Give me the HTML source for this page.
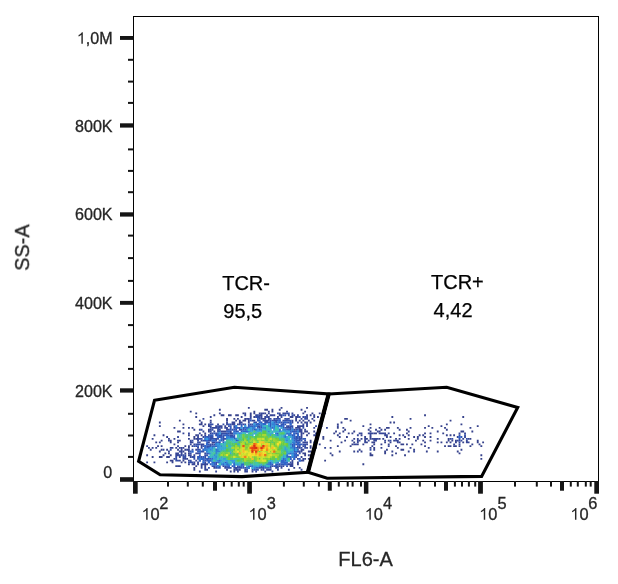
<!DOCTYPE html>
<html><head><meta charset="utf-8"><title>FL6-A vs SS-A</title>
<style>
html,body{margin:0;padding:0;background:#fff;}
body{width:618px;height:584px;overflow:hidden;font-family:"Liberation Sans",sans-serif;}
svg{display:block;will-change:transform;}
svg text{font-family:"Liberation Sans",sans-serif;}
.t text,.t path{stroke:#262626;stroke-width:0.3px;}
.t text.g{stroke:#000;stroke-width:0.25px;}
</style></head>
<body>
<svg width="618" height="584" viewBox="0 0 618 584">
<rect width="618" height="584" fill="#fff"/>
<g shape-rendering="auto">
<path fill="#36428c" d="M198.9 470.6h1.85v1.85h-1.85zM229.8 470.6h1.85v1.85h-1.85zM233.4 470.6h1.85v1.85h-1.85zM264.3 470.6h1.85v1.85h-1.85zM271.5 470.6h1.85v1.85h-1.85zM193.4 468.8h1.85v1.85h-1.85zM226.1 468.8h1.85v1.85h-1.85zM233.4 468.8h1.85v1.85h-1.85zM238.9 468.8h1.85v1.85h-1.85zM287.9 468.8h1.85v1.85h-1.85zM193.4 467.0h1.85v1.85h-1.85zM213.4 467.0h1.85v1.85h-1.85zM293.3 467.0h1.85v1.85h-1.85zM298.8 467.0h1.85v1.85h-1.85zM177.1 465.2h1.85v1.85h-1.85zM178.9 465.2h1.85v1.85h-1.85zM195.3 465.2h1.85v1.85h-1.85zM188.0 463.3h1.85v1.85h-1.85zM297.0 463.3h1.85v1.85h-1.85zM362.4 463.3h1.85v1.85h-1.85zM146.2 461.5h1.85v1.85h-1.85zM153.5 461.5h1.85v1.85h-1.85zM166.2 461.5h1.85v1.85h-1.85zM171.6 461.5h1.85v1.85h-1.85zM180.7 461.5h1.85v1.85h-1.85zM184.4 461.5h1.85v1.85h-1.85zM297.0 461.5h1.85v1.85h-1.85zM169.8 459.7h1.85v1.85h-1.85zM171.6 459.7h1.85v1.85h-1.85zM182.5 459.7h1.85v1.85h-1.85zM324.2 459.7h1.85v1.85h-1.85zM186.2 457.9h1.85v1.85h-1.85zM304.2 457.9h1.85v1.85h-1.85zM307.9 457.9h1.85v1.85h-1.85zM480.4 457.9h1.85v1.85h-1.85zM151.7 456.1h1.85v1.85h-1.85zM158.9 456.1h1.85v1.85h-1.85zM160.7 456.1h1.85v1.85h-1.85zM166.2 456.1h1.85v1.85h-1.85zM168.0 456.1h1.85v1.85h-1.85zM300.6 456.1h1.85v1.85h-1.85zM146.2 454.3h1.85v1.85h-1.85zM162.6 454.3h1.85v1.85h-1.85zM169.8 454.3h1.85v1.85h-1.85zM304.2 454.3h1.85v1.85h-1.85zM307.9 454.3h1.85v1.85h-1.85zM331.5 454.3h1.85v1.85h-1.85zM369.6 454.3h1.85v1.85h-1.85zM371.4 454.3h1.85v1.85h-1.85zM391.4 454.3h1.85v1.85h-1.85zM404.1 454.3h1.85v1.85h-1.85zM480.4 454.3h1.85v1.85h-1.85zM164.4 452.4h1.85v1.85h-1.85zM168.0 452.4h1.85v1.85h-1.85zM184.4 452.4h1.85v1.85h-1.85zM188.0 452.4h1.85v1.85h-1.85zM302.4 452.4h1.85v1.85h-1.85zM304.2 452.4h1.85v1.85h-1.85zM329.7 452.4h1.85v1.85h-1.85zM369.6 452.4h1.85v1.85h-1.85zM384.2 452.4h1.85v1.85h-1.85zM395.1 452.4h1.85v1.85h-1.85zM458.6 452.4h1.85v1.85h-1.85zM158.9 450.6h1.85v1.85h-1.85zM182.5 450.6h1.85v1.85h-1.85zM307.9 450.6h1.85v1.85h-1.85zM309.7 450.6h1.85v1.85h-1.85zM338.8 450.6h1.85v1.85h-1.85zM353.3 450.6h1.85v1.85h-1.85zM360.6 450.6h1.85v1.85h-1.85zM384.2 450.6h1.85v1.85h-1.85zM391.4 450.6h1.85v1.85h-1.85zM407.8 450.6h1.85v1.85h-1.85zM425.9 450.6h1.85v1.85h-1.85zM436.8 450.6h1.85v1.85h-1.85zM456.8 450.6h1.85v1.85h-1.85zM149.8 448.8h1.85v1.85h-1.85zM160.7 448.8h1.85v1.85h-1.85zM166.2 448.8h1.85v1.85h-1.85zM177.1 448.8h1.85v1.85h-1.85zM184.4 448.8h1.85v1.85h-1.85zM358.7 448.8h1.85v1.85h-1.85zM373.3 448.8h1.85v1.85h-1.85zM386.0 448.8h1.85v1.85h-1.85zM400.5 448.8h1.85v1.85h-1.85zM402.3 448.8h1.85v1.85h-1.85zM413.2 448.8h1.85v1.85h-1.85zM460.5 448.8h1.85v1.85h-1.85zM148.0 447.0h1.85v1.85h-1.85zM151.7 447.0h1.85v1.85h-1.85zM155.3 447.0h1.85v1.85h-1.85zM175.3 447.0h1.85v1.85h-1.85zM178.9 447.0h1.85v1.85h-1.85zM182.5 447.0h1.85v1.85h-1.85zM188.0 447.0h1.85v1.85h-1.85zM309.7 447.0h1.85v1.85h-1.85zM315.1 447.0h1.85v1.85h-1.85zM329.7 447.0h1.85v1.85h-1.85zM369.6 447.0h1.85v1.85h-1.85zM373.3 447.0h1.85v1.85h-1.85zM380.5 447.0h1.85v1.85h-1.85zM396.9 447.0h1.85v1.85h-1.85zM409.6 447.0h1.85v1.85h-1.85zM427.8 447.0h1.85v1.85h-1.85zM146.2 445.2h1.85v1.85h-1.85zM157.1 445.2h1.85v1.85h-1.85zM160.7 445.2h1.85v1.85h-1.85zM184.4 445.2h1.85v1.85h-1.85zM188.0 445.2h1.85v1.85h-1.85zM191.6 445.2h1.85v1.85h-1.85zM309.7 445.2h1.85v1.85h-1.85zM336.9 445.2h1.85v1.85h-1.85zM349.7 445.2h1.85v1.85h-1.85zM371.4 445.2h1.85v1.85h-1.85zM395.1 445.2h1.85v1.85h-1.85zM424.1 445.2h1.85v1.85h-1.85zM444.1 445.2h1.85v1.85h-1.85zM447.7 445.2h1.85v1.85h-1.85zM449.6 445.2h1.85v1.85h-1.85zM453.2 445.2h1.85v1.85h-1.85zM455.0 445.2h1.85v1.85h-1.85zM458.6 445.2h1.85v1.85h-1.85zM469.5 445.2h1.85v1.85h-1.85zM480.4 445.2h1.85v1.85h-1.85zM173.5 443.4h1.85v1.85h-1.85zM318.8 443.4h1.85v1.85h-1.85zM351.5 443.4h1.85v1.85h-1.85zM356.9 443.4h1.85v1.85h-1.85zM362.4 443.4h1.85v1.85h-1.85zM373.3 443.4h1.85v1.85h-1.85zM380.5 443.4h1.85v1.85h-1.85zM387.8 443.4h1.85v1.85h-1.85zM400.5 443.4h1.85v1.85h-1.85zM402.3 443.4h1.85v1.85h-1.85zM406.0 443.4h1.85v1.85h-1.85zM411.4 443.4h1.85v1.85h-1.85zM420.5 443.4h1.85v1.85h-1.85zM471.4 443.4h1.85v1.85h-1.85zM478.6 443.4h1.85v1.85h-1.85zM155.3 441.5h1.85v1.85h-1.85zM158.9 441.5h1.85v1.85h-1.85zM169.8 441.5h1.85v1.85h-1.85zM177.1 441.5h1.85v1.85h-1.85zM309.7 441.5h1.85v1.85h-1.85zM340.6 441.5h1.85v1.85h-1.85zM353.3 441.5h1.85v1.85h-1.85zM366.0 441.5h1.85v1.85h-1.85zM371.4 441.5h1.85v1.85h-1.85zM373.3 441.5h1.85v1.85h-1.85zM384.2 441.5h1.85v1.85h-1.85zM389.6 441.5h1.85v1.85h-1.85zM398.7 441.5h1.85v1.85h-1.85zM424.1 441.5h1.85v1.85h-1.85zM436.8 441.5h1.85v1.85h-1.85zM440.5 441.5h1.85v1.85h-1.85zM445.9 441.5h1.85v1.85h-1.85zM449.6 441.5h1.85v1.85h-1.85zM455.0 441.5h1.85v1.85h-1.85zM462.3 441.5h1.85v1.85h-1.85zM476.8 441.5h1.85v1.85h-1.85zM482.2 441.5h1.85v1.85h-1.85zM160.7 439.7h1.85v1.85h-1.85zM169.8 439.7h1.85v1.85h-1.85zM178.9 439.7h1.85v1.85h-1.85zM309.7 439.7h1.85v1.85h-1.85zM329.7 439.7h1.85v1.85h-1.85zM344.2 439.7h1.85v1.85h-1.85zM358.7 439.7h1.85v1.85h-1.85zM387.8 439.7h1.85v1.85h-1.85zM393.2 439.7h1.85v1.85h-1.85zM415.0 439.7h1.85v1.85h-1.85zM422.3 439.7h1.85v1.85h-1.85zM429.6 439.7h1.85v1.85h-1.85zM447.7 439.7h1.85v1.85h-1.85zM451.4 439.7h1.85v1.85h-1.85zM455.0 439.7h1.85v1.85h-1.85zM476.8 439.7h1.85v1.85h-1.85zM151.7 437.9h1.85v1.85h-1.85zM168.0 437.9h1.85v1.85h-1.85zM173.5 437.9h1.85v1.85h-1.85zM188.0 437.9h1.85v1.85h-1.85zM193.4 437.9h1.85v1.85h-1.85zM322.4 437.9h1.85v1.85h-1.85zM353.3 437.9h1.85v1.85h-1.85zM360.6 437.9h1.85v1.85h-1.85zM366.0 437.9h1.85v1.85h-1.85zM369.6 437.9h1.85v1.85h-1.85zM378.7 437.9h1.85v1.85h-1.85zM382.3 437.9h1.85v1.85h-1.85zM395.1 437.9h1.85v1.85h-1.85zM398.7 437.9h1.85v1.85h-1.85zM407.8 437.9h1.85v1.85h-1.85zM416.9 437.9h1.85v1.85h-1.85zM436.8 437.9h1.85v1.85h-1.85zM447.7 437.9h1.85v1.85h-1.85zM462.3 437.9h1.85v1.85h-1.85zM469.5 437.9h1.85v1.85h-1.85zM166.2 436.1h1.85v1.85h-1.85zM193.4 436.1h1.85v1.85h-1.85zM322.4 436.1h1.85v1.85h-1.85zM338.8 436.1h1.85v1.85h-1.85zM346.0 436.1h1.85v1.85h-1.85zM364.2 436.1h1.85v1.85h-1.85zM369.6 436.1h1.85v1.85h-1.85zM386.0 436.1h1.85v1.85h-1.85zM389.6 436.1h1.85v1.85h-1.85zM404.1 436.1h1.85v1.85h-1.85zM413.2 436.1h1.85v1.85h-1.85zM416.9 436.1h1.85v1.85h-1.85zM424.1 436.1h1.85v1.85h-1.85zM429.6 436.1h1.85v1.85h-1.85zM153.5 434.3h1.85v1.85h-1.85zM162.6 434.3h1.85v1.85h-1.85zM188.0 434.3h1.85v1.85h-1.85zM195.3 434.3h1.85v1.85h-1.85zM200.7 434.3h1.85v1.85h-1.85zM306.1 434.3h1.85v1.85h-1.85zM315.1 434.3h1.85v1.85h-1.85zM336.9 434.3h1.85v1.85h-1.85zM360.6 434.3h1.85v1.85h-1.85zM398.7 434.3h1.85v1.85h-1.85zM402.3 434.3h1.85v1.85h-1.85zM407.8 434.3h1.85v1.85h-1.85zM418.7 434.3h1.85v1.85h-1.85zM422.3 434.3h1.85v1.85h-1.85zM445.9 434.3h1.85v1.85h-1.85zM449.6 434.3h1.85v1.85h-1.85zM453.2 434.3h1.85v1.85h-1.85zM204.3 432.5h1.85v1.85h-1.85zM302.4 432.5h1.85v1.85h-1.85zM307.9 432.5h1.85v1.85h-1.85zM317.0 432.5h1.85v1.85h-1.85zM333.3 432.5h1.85v1.85h-1.85zM338.8 432.5h1.85v1.85h-1.85zM347.8 432.5h1.85v1.85h-1.85zM351.5 432.5h1.85v1.85h-1.85zM373.3 432.5h1.85v1.85h-1.85zM375.1 432.5h1.85v1.85h-1.85zM393.2 432.5h1.85v1.85h-1.85zM406.0 432.5h1.85v1.85h-1.85zM424.1 432.5h1.85v1.85h-1.85zM429.6 432.5h1.85v1.85h-1.85zM442.3 432.5h1.85v1.85h-1.85zM177.1 430.6h1.85v1.85h-1.85zM178.9 430.6h1.85v1.85h-1.85zM208.0 430.6h1.85v1.85h-1.85zM304.2 430.6h1.85v1.85h-1.85zM306.1 430.6h1.85v1.85h-1.85zM313.3 430.6h1.85v1.85h-1.85zM335.1 430.6h1.85v1.85h-1.85zM342.4 430.6h1.85v1.85h-1.85zM353.3 430.6h1.85v1.85h-1.85zM369.6 430.6h1.85v1.85h-1.85zM378.7 430.6h1.85v1.85h-1.85zM407.8 430.6h1.85v1.85h-1.85zM436.8 430.6h1.85v1.85h-1.85zM460.5 430.6h1.85v1.85h-1.85zM462.3 430.6h1.85v1.85h-1.85zM471.4 430.6h1.85v1.85h-1.85zM193.4 428.8h1.85v1.85h-1.85zM208.0 428.8h1.85v1.85h-1.85zM344.2 428.8h1.85v1.85h-1.85zM367.8 428.8h1.85v1.85h-1.85zM375.1 428.8h1.85v1.85h-1.85zM380.5 428.8h1.85v1.85h-1.85zM384.2 428.8h1.85v1.85h-1.85zM398.7 428.8h1.85v1.85h-1.85zM406.0 428.8h1.85v1.85h-1.85zM445.9 428.8h1.85v1.85h-1.85zM173.5 427.0h1.85v1.85h-1.85zM182.5 427.0h1.85v1.85h-1.85zM188.0 427.0h1.85v1.85h-1.85zM191.6 427.0h1.85v1.85h-1.85zM295.2 427.0h1.85v1.85h-1.85zM318.8 427.0h1.85v1.85h-1.85zM336.9 427.0h1.85v1.85h-1.85zM342.4 427.0h1.85v1.85h-1.85zM369.6 427.0h1.85v1.85h-1.85zM378.7 427.0h1.85v1.85h-1.85zM386.0 427.0h1.85v1.85h-1.85zM387.8 427.0h1.85v1.85h-1.85zM396.9 427.0h1.85v1.85h-1.85zM409.6 427.0h1.85v1.85h-1.85zM424.1 427.0h1.85v1.85h-1.85zM431.4 427.0h1.85v1.85h-1.85zM444.1 427.0h1.85v1.85h-1.85zM469.5 427.0h1.85v1.85h-1.85zM158.9 425.2h1.85v1.85h-1.85zM202.5 425.2h1.85v1.85h-1.85zM224.3 425.2h1.85v1.85h-1.85zM320.6 425.2h1.85v1.85h-1.85zM362.4 425.2h1.85v1.85h-1.85zM427.8 425.2h1.85v1.85h-1.85zM440.5 425.2h1.85v1.85h-1.85zM476.8 425.2h1.85v1.85h-1.85zM182.5 423.4h1.85v1.85h-1.85zM198.9 423.4h1.85v1.85h-1.85zM200.7 423.4h1.85v1.85h-1.85zM204.3 423.4h1.85v1.85h-1.85zM237.0 423.4h1.85v1.85h-1.85zM336.9 423.4h1.85v1.85h-1.85zM369.6 423.4h1.85v1.85h-1.85zM445.9 423.4h1.85v1.85h-1.85zM460.5 423.4h1.85v1.85h-1.85zM158.9 421.6h1.85v1.85h-1.85zM200.7 421.6h1.85v1.85h-1.85zM304.2 421.6h1.85v1.85h-1.85zM309.7 421.6h1.85v1.85h-1.85zM340.6 421.6h1.85v1.85h-1.85zM389.6 421.6h1.85v1.85h-1.85zM393.2 421.6h1.85v1.85h-1.85zM178.9 419.7h1.85v1.85h-1.85zM198.9 419.7h1.85v1.85h-1.85zM209.8 419.7h1.85v1.85h-1.85zM226.1 419.7h1.85v1.85h-1.85zM235.2 419.7h1.85v1.85h-1.85zM242.5 419.7h1.85v1.85h-1.85zM244.3 419.7h1.85v1.85h-1.85zM295.2 419.7h1.85v1.85h-1.85zM298.8 419.7h1.85v1.85h-1.85zM302.4 419.7h1.85v1.85h-1.85zM307.9 419.7h1.85v1.85h-1.85zM313.3 419.7h1.85v1.85h-1.85zM349.7 419.7h1.85v1.85h-1.85zM449.6 419.7h1.85v1.85h-1.85zM226.1 417.9h1.85v1.85h-1.85zM233.4 417.9h1.85v1.85h-1.85zM237.0 417.9h1.85v1.85h-1.85zM244.3 417.9h1.85v1.85h-1.85zM295.2 417.9h1.85v1.85h-1.85zM311.5 417.9h1.85v1.85h-1.85zM344.2 417.9h1.85v1.85h-1.85zM346.0 417.9h1.85v1.85h-1.85zM409.6 417.9h1.85v1.85h-1.85zM195.3 416.1h1.85v1.85h-1.85zM209.8 416.1h1.85v1.85h-1.85zM240.7 416.1h1.85v1.85h-1.85zM253.4 416.1h1.85v1.85h-1.85zM289.7 416.1h1.85v1.85h-1.85zM291.5 416.1h1.85v1.85h-1.85zM295.2 416.1h1.85v1.85h-1.85zM317.0 416.1h1.85v1.85h-1.85zM391.4 416.1h1.85v1.85h-1.85zM462.3 416.1h1.85v1.85h-1.85zM213.4 414.3h1.85v1.85h-1.85zM220.7 414.3h1.85v1.85h-1.85zM222.5 414.3h1.85v1.85h-1.85zM228.0 414.3h1.85v1.85h-1.85zM229.8 414.3h1.85v1.85h-1.85zM235.2 414.3h1.85v1.85h-1.85zM237.0 414.3h1.85v1.85h-1.85zM249.8 414.3h1.85v1.85h-1.85zM306.1 414.3h1.85v1.85h-1.85zM309.7 414.3h1.85v1.85h-1.85zM313.3 414.3h1.85v1.85h-1.85zM424.1 414.3h1.85v1.85h-1.85zM195.3 412.5h1.85v1.85h-1.85zM218.9 412.5h1.85v1.85h-1.85zM242.5 412.5h1.85v1.85h-1.85zM249.8 412.5h1.85v1.85h-1.85zM253.4 412.5h1.85v1.85h-1.85zM258.8 412.5h1.85v1.85h-1.85zM264.3 412.5h1.85v1.85h-1.85zM302.4 412.5h1.85v1.85h-1.85zM311.5 412.5h1.85v1.85h-1.85zM318.8 412.5h1.85v1.85h-1.85zM324.2 412.5h1.85v1.85h-1.85zM189.8 410.7h1.85v1.85h-1.85zM253.4 410.7h1.85v1.85h-1.85zM267.9 410.7h1.85v1.85h-1.85zM271.5 410.7h1.85v1.85h-1.85zM304.2 410.7h1.85v1.85h-1.85zM218.9 408.8h1.85v1.85h-1.85zM264.3 408.8h1.85v1.85h-1.85zM266.1 408.8h1.85v1.85h-1.85zM271.5 408.8h1.85v1.85h-1.85zM278.8 408.8h1.85v1.85h-1.85zM300.6 408.8h1.85v1.85h-1.85zM247.9 407.0h1.85v1.85h-1.85zM280.6 407.0h1.85v1.85h-1.85zM306.1 407.0h1.85v1.85h-1.85z"/>
<path fill="#364697" d="M215.2 470.6h1.85v1.85h-1.85zM237.0 470.6h1.85v1.85h-1.85zM244.3 470.6h1.85v1.85h-1.85zM246.1 470.6h1.85v1.85h-1.85zM251.6 470.6h1.85v1.85h-1.85zM255.2 470.6h1.85v1.85h-1.85zM204.3 468.8h1.85v1.85h-1.85zM206.2 468.8h1.85v1.85h-1.85zM235.2 468.8h1.85v1.85h-1.85zM237.0 468.8h1.85v1.85h-1.85zM244.3 468.8h1.85v1.85h-1.85zM260.6 468.8h1.85v1.85h-1.85zM266.1 468.8h1.85v1.85h-1.85zM267.9 468.8h1.85v1.85h-1.85zM269.7 468.8h1.85v1.85h-1.85zM277.0 468.8h1.85v1.85h-1.85zM300.6 468.8h1.85v1.85h-1.85zM200.7 467.0h1.85v1.85h-1.85zM204.3 467.0h1.85v1.85h-1.85zM224.3 467.0h1.85v1.85h-1.85zM233.4 467.0h1.85v1.85h-1.85zM235.2 467.0h1.85v1.85h-1.85zM275.2 467.0h1.85v1.85h-1.85zM280.6 467.0h1.85v1.85h-1.85zM175.3 465.2h1.85v1.85h-1.85zM200.7 465.2h1.85v1.85h-1.85zM204.3 465.2h1.85v1.85h-1.85zM222.5 465.2h1.85v1.85h-1.85zM271.5 465.2h1.85v1.85h-1.85zM278.8 465.2h1.85v1.85h-1.85zM282.4 465.2h1.85v1.85h-1.85zM289.7 465.2h1.85v1.85h-1.85zM291.5 465.2h1.85v1.85h-1.85zM191.6 463.3h1.85v1.85h-1.85zM193.4 463.3h1.85v1.85h-1.85zM197.1 463.3h1.85v1.85h-1.85zM200.7 463.3h1.85v1.85h-1.85zM202.5 463.3h1.85v1.85h-1.85zM204.3 463.3h1.85v1.85h-1.85zM206.2 463.3h1.85v1.85h-1.85zM287.9 463.3h1.85v1.85h-1.85zM289.7 463.3h1.85v1.85h-1.85zM291.5 463.3h1.85v1.85h-1.85zM193.4 461.5h1.85v1.85h-1.85zM197.1 461.5h1.85v1.85h-1.85zM204.3 461.5h1.85v1.85h-1.85zM291.5 461.5h1.85v1.85h-1.85zM178.9 459.7h1.85v1.85h-1.85zM188.0 459.7h1.85v1.85h-1.85zM195.3 459.7h1.85v1.85h-1.85zM291.5 459.7h1.85v1.85h-1.85zM300.6 459.7h1.85v1.85h-1.85zM302.4 459.7h1.85v1.85h-1.85zM173.5 457.9h1.85v1.85h-1.85zM182.5 457.9h1.85v1.85h-1.85zM184.4 457.9h1.85v1.85h-1.85zM297.0 457.9h1.85v1.85h-1.85zM302.4 457.9h1.85v1.85h-1.85zM178.9 456.1h1.85v1.85h-1.85zM189.8 456.1h1.85v1.85h-1.85zM175.3 454.3h1.85v1.85h-1.85zM177.1 454.3h1.85v1.85h-1.85zM180.7 454.3h1.85v1.85h-1.85zM184.4 454.3h1.85v1.85h-1.85zM188.0 454.3h1.85v1.85h-1.85zM189.8 454.3h1.85v1.85h-1.85zM193.4 454.3h1.85v1.85h-1.85zM309.7 454.3h1.85v1.85h-1.85zM311.5 454.3h1.85v1.85h-1.85zM175.3 452.4h1.85v1.85h-1.85zM177.1 452.4h1.85v1.85h-1.85zM180.7 452.4h1.85v1.85h-1.85zM195.3 452.4h1.85v1.85h-1.85zM197.1 452.4h1.85v1.85h-1.85zM204.3 452.4h1.85v1.85h-1.85zM168.0 450.6h1.85v1.85h-1.85zM178.9 450.6h1.85v1.85h-1.85zM180.7 450.6h1.85v1.85h-1.85zM188.0 450.6h1.85v1.85h-1.85zM300.6 450.6h1.85v1.85h-1.85zM356.9 450.6h1.85v1.85h-1.85zM413.2 450.6h1.85v1.85h-1.85zM162.6 448.8h1.85v1.85h-1.85zM180.7 448.8h1.85v1.85h-1.85zM186.2 448.8h1.85v1.85h-1.85zM188.0 448.8h1.85v1.85h-1.85zM195.3 448.8h1.85v1.85h-1.85zM300.6 448.8h1.85v1.85h-1.85zM302.4 448.8h1.85v1.85h-1.85zM169.8 447.0h1.85v1.85h-1.85zM171.6 447.0h1.85v1.85h-1.85zM180.7 447.0h1.85v1.85h-1.85zM197.1 447.0h1.85v1.85h-1.85zM200.7 447.0h1.85v1.85h-1.85zM298.8 447.0h1.85v1.85h-1.85zM306.1 447.0h1.85v1.85h-1.85zM324.2 447.0h1.85v1.85h-1.85zM177.1 445.2h1.85v1.85h-1.85zM195.3 445.2h1.85v1.85h-1.85zM200.7 445.2h1.85v1.85h-1.85zM302.4 445.2h1.85v1.85h-1.85zM387.8 445.2h1.85v1.85h-1.85zM189.8 443.4h1.85v1.85h-1.85zM193.4 443.4h1.85v1.85h-1.85zM200.7 443.4h1.85v1.85h-1.85zM202.5 443.4h1.85v1.85h-1.85zM211.6 443.4h1.85v1.85h-1.85zM306.1 443.4h1.85v1.85h-1.85zM353.3 443.4h1.85v1.85h-1.85zM355.1 443.4h1.85v1.85h-1.85zM453.2 443.4h1.85v1.85h-1.85zM458.6 443.4h1.85v1.85h-1.85zM189.8 441.5h1.85v1.85h-1.85zM191.6 441.5h1.85v1.85h-1.85zM198.9 441.5h1.85v1.85h-1.85zM208.0 441.5h1.85v1.85h-1.85zM211.6 441.5h1.85v1.85h-1.85zM213.4 441.5h1.85v1.85h-1.85zM302.4 441.5h1.85v1.85h-1.85zM304.2 441.5h1.85v1.85h-1.85zM306.1 441.5h1.85v1.85h-1.85zM315.1 441.5h1.85v1.85h-1.85zM356.9 441.5h1.85v1.85h-1.85zM364.2 441.5h1.85v1.85h-1.85zM396.9 441.5h1.85v1.85h-1.85zM458.6 441.5h1.85v1.85h-1.85zM465.9 441.5h1.85v1.85h-1.85zM467.7 441.5h1.85v1.85h-1.85zM168.0 439.7h1.85v1.85h-1.85zM177.1 439.7h1.85v1.85h-1.85zM189.8 439.7h1.85v1.85h-1.85zM197.1 439.7h1.85v1.85h-1.85zM200.7 439.7h1.85v1.85h-1.85zM351.5 439.7h1.85v1.85h-1.85zM356.9 439.7h1.85v1.85h-1.85zM364.2 439.7h1.85v1.85h-1.85zM367.8 439.7h1.85v1.85h-1.85zM373.3 439.7h1.85v1.85h-1.85zM375.1 439.7h1.85v1.85h-1.85zM384.2 439.7h1.85v1.85h-1.85zM395.1 439.7h1.85v1.85h-1.85zM396.9 439.7h1.85v1.85h-1.85zM456.8 439.7h1.85v1.85h-1.85zM460.5 439.7h1.85v1.85h-1.85zM465.9 439.7h1.85v1.85h-1.85zM195.3 437.9h1.85v1.85h-1.85zM197.1 437.9h1.85v1.85h-1.85zM217.1 437.9h1.85v1.85h-1.85zM356.9 437.9h1.85v1.85h-1.85zM364.2 437.9h1.85v1.85h-1.85zM371.4 437.9h1.85v1.85h-1.85zM373.3 437.9h1.85v1.85h-1.85zM375.1 437.9h1.85v1.85h-1.85zM376.9 437.9h1.85v1.85h-1.85zM449.6 437.9h1.85v1.85h-1.85zM467.7 437.9h1.85v1.85h-1.85zM177.1 436.1h1.85v1.85h-1.85zM197.1 436.1h1.85v1.85h-1.85zM202.5 436.1h1.85v1.85h-1.85zM300.6 436.1h1.85v1.85h-1.85zM456.8 436.1h1.85v1.85h-1.85zM464.1 436.1h1.85v1.85h-1.85zM197.1 434.3h1.85v1.85h-1.85zM204.3 434.3h1.85v1.85h-1.85zM300.6 434.3h1.85v1.85h-1.85zM313.3 434.3h1.85v1.85h-1.85zM356.9 434.3h1.85v1.85h-1.85zM369.6 434.3h1.85v1.85h-1.85zM384.2 434.3h1.85v1.85h-1.85zM386.0 434.3h1.85v1.85h-1.85zM182.5 432.5h1.85v1.85h-1.85zM188.0 432.5h1.85v1.85h-1.85zM198.9 432.5h1.85v1.85h-1.85zM209.8 432.5h1.85v1.85h-1.85zM229.8 432.5h1.85v1.85h-1.85zM231.6 432.5h1.85v1.85h-1.85zM300.6 432.5h1.85v1.85h-1.85zM358.7 432.5h1.85v1.85h-1.85zM360.6 432.5h1.85v1.85h-1.85zM367.8 432.5h1.85v1.85h-1.85zM369.6 432.5h1.85v1.85h-1.85zM371.4 432.5h1.85v1.85h-1.85zM378.7 432.5h1.85v1.85h-1.85zM380.5 432.5h1.85v1.85h-1.85zM382.3 432.5h1.85v1.85h-1.85zM384.2 432.5h1.85v1.85h-1.85zM387.8 432.5h1.85v1.85h-1.85zM458.6 432.5h1.85v1.85h-1.85zM464.1 432.5h1.85v1.85h-1.85zM202.5 430.6h1.85v1.85h-1.85zM213.4 430.6h1.85v1.85h-1.85zM220.7 430.6h1.85v1.85h-1.85zM222.5 430.6h1.85v1.85h-1.85zM224.3 430.6h1.85v1.85h-1.85zM229.8 430.6h1.85v1.85h-1.85zM298.8 430.6h1.85v1.85h-1.85zM300.6 430.6h1.85v1.85h-1.85zM376.9 430.6h1.85v1.85h-1.85zM198.9 428.8h1.85v1.85h-1.85zM209.8 428.8h1.85v1.85h-1.85zM218.9 428.8h1.85v1.85h-1.85zM226.1 428.8h1.85v1.85h-1.85zM293.3 428.8h1.85v1.85h-1.85zM298.8 428.8h1.85v1.85h-1.85zM300.6 428.8h1.85v1.85h-1.85zM304.2 428.8h1.85v1.85h-1.85zM211.6 427.0h1.85v1.85h-1.85zM213.4 427.0h1.85v1.85h-1.85zM215.2 427.0h1.85v1.85h-1.85zM220.7 427.0h1.85v1.85h-1.85zM224.3 427.0h1.85v1.85h-1.85zM226.1 427.0h1.85v1.85h-1.85zM286.1 427.0h1.85v1.85h-1.85zM297.0 427.0h1.85v1.85h-1.85zM298.8 427.0h1.85v1.85h-1.85zM313.3 427.0h1.85v1.85h-1.85zM326.0 427.0h1.85v1.85h-1.85zM208.0 425.2h1.85v1.85h-1.85zM209.8 425.2h1.85v1.85h-1.85zM215.2 425.2h1.85v1.85h-1.85zM218.9 425.2h1.85v1.85h-1.85zM220.7 425.2h1.85v1.85h-1.85zM287.9 425.2h1.85v1.85h-1.85zM297.0 425.2h1.85v1.85h-1.85zM298.8 425.2h1.85v1.85h-1.85zM300.6 425.2h1.85v1.85h-1.85zM302.4 425.2h1.85v1.85h-1.85zM306.1 425.2h1.85v1.85h-1.85zM336.9 425.2h1.85v1.85h-1.85zM208.0 423.4h1.85v1.85h-1.85zM217.1 423.4h1.85v1.85h-1.85zM226.1 423.4h1.85v1.85h-1.85zM231.6 423.4h1.85v1.85h-1.85zM233.4 423.4h1.85v1.85h-1.85zM238.9 423.4h1.85v1.85h-1.85zM242.5 423.4h1.85v1.85h-1.85zM249.8 423.4h1.85v1.85h-1.85zM302.4 423.4h1.85v1.85h-1.85zM306.1 423.4h1.85v1.85h-1.85zM209.8 421.6h1.85v1.85h-1.85zM226.1 421.6h1.85v1.85h-1.85zM231.6 421.6h1.85v1.85h-1.85zM233.4 421.6h1.85v1.85h-1.85zM238.9 421.6h1.85v1.85h-1.85zM240.7 421.6h1.85v1.85h-1.85zM247.9 421.6h1.85v1.85h-1.85zM291.5 421.6h1.85v1.85h-1.85zM297.0 421.6h1.85v1.85h-1.85zM300.6 421.6h1.85v1.85h-1.85zM306.1 421.6h1.85v1.85h-1.85zM238.9 419.7h1.85v1.85h-1.85zM247.9 419.7h1.85v1.85h-1.85zM251.6 419.7h1.85v1.85h-1.85zM253.4 419.7h1.85v1.85h-1.85zM291.5 419.7h1.85v1.85h-1.85zM202.5 417.9h1.85v1.85h-1.85zM246.1 417.9h1.85v1.85h-1.85zM247.9 417.9h1.85v1.85h-1.85zM260.6 417.9h1.85v1.85h-1.85zM262.5 417.9h1.85v1.85h-1.85zM264.3 417.9h1.85v1.85h-1.85zM275.2 417.9h1.85v1.85h-1.85zM284.3 417.9h1.85v1.85h-1.85zM287.9 417.9h1.85v1.85h-1.85zM300.6 417.9h1.85v1.85h-1.85zM306.1 417.9h1.85v1.85h-1.85zM249.8 416.1h1.85v1.85h-1.85zM260.6 416.1h1.85v1.85h-1.85zM264.3 416.1h1.85v1.85h-1.85zM267.9 416.1h1.85v1.85h-1.85zM277.0 416.1h1.85v1.85h-1.85zM280.6 416.1h1.85v1.85h-1.85zM297.0 416.1h1.85v1.85h-1.85zM302.4 416.1h1.85v1.85h-1.85zM306.1 416.1h1.85v1.85h-1.85zM313.3 416.1h1.85v1.85h-1.85zM244.3 414.3h1.85v1.85h-1.85zM255.2 414.3h1.85v1.85h-1.85zM258.8 414.3h1.85v1.85h-1.85zM260.6 414.3h1.85v1.85h-1.85zM266.1 414.3h1.85v1.85h-1.85zM269.7 414.3h1.85v1.85h-1.85zM271.5 414.3h1.85v1.85h-1.85zM273.4 414.3h1.85v1.85h-1.85zM278.8 414.3h1.85v1.85h-1.85zM280.6 414.3h1.85v1.85h-1.85zM293.3 414.3h1.85v1.85h-1.85zM297.0 414.3h1.85v1.85h-1.85zM244.3 412.5h1.85v1.85h-1.85zM260.6 412.5h1.85v1.85h-1.85zM262.5 412.5h1.85v1.85h-1.85zM267.9 412.5h1.85v1.85h-1.85zM278.8 412.5h1.85v1.85h-1.85zM282.4 412.5h1.85v1.85h-1.85zM284.3 412.5h1.85v1.85h-1.85zM291.5 412.5h1.85v1.85h-1.85zM286.1 410.7h1.85v1.85h-1.85z"/>
<path fill="#344ea7" d="M246.1 468.8h1.85v1.85h-1.85zM251.6 468.8h1.85v1.85h-1.85zM255.2 468.8h1.85v1.85h-1.85zM257.0 468.8h1.85v1.85h-1.85zM262.5 468.8h1.85v1.85h-1.85zM208.0 467.0h1.85v1.85h-1.85zM215.2 467.0h1.85v1.85h-1.85zM226.1 467.0h1.85v1.85h-1.85zM228.0 467.0h1.85v1.85h-1.85zM229.8 467.0h1.85v1.85h-1.85zM237.0 467.0h1.85v1.85h-1.85zM238.9 467.0h1.85v1.85h-1.85zM240.7 467.0h1.85v1.85h-1.85zM244.3 467.0h1.85v1.85h-1.85zM258.8 467.0h1.85v1.85h-1.85zM260.6 467.0h1.85v1.85h-1.85zM262.5 467.0h1.85v1.85h-1.85zM266.1 467.0h1.85v1.85h-1.85zM269.7 467.0h1.85v1.85h-1.85zM277.0 467.0h1.85v1.85h-1.85zM211.6 465.2h1.85v1.85h-1.85zM213.4 465.2h1.85v1.85h-1.85zM224.3 465.2h1.85v1.85h-1.85zM237.0 465.2h1.85v1.85h-1.85zM277.0 465.2h1.85v1.85h-1.85zM280.6 465.2h1.85v1.85h-1.85zM286.1 465.2h1.85v1.85h-1.85zM215.2 463.3h1.85v1.85h-1.85zM278.8 463.3h1.85v1.85h-1.85zM188.0 461.5h1.85v1.85h-1.85zM189.8 461.5h1.85v1.85h-1.85zM191.6 461.5h1.85v1.85h-1.85zM215.2 461.5h1.85v1.85h-1.85zM289.7 461.5h1.85v1.85h-1.85zM175.3 459.7h1.85v1.85h-1.85zM177.1 459.7h1.85v1.85h-1.85zM189.8 459.7h1.85v1.85h-1.85zM204.3 459.7h1.85v1.85h-1.85zM175.3 457.9h1.85v1.85h-1.85zM193.4 457.9h1.85v1.85h-1.85zM197.1 457.9h1.85v1.85h-1.85zM208.0 457.9h1.85v1.85h-1.85zM175.3 456.1h1.85v1.85h-1.85zM182.5 456.1h1.85v1.85h-1.85zM184.4 456.1h1.85v1.85h-1.85zM191.6 456.1h1.85v1.85h-1.85zM193.4 456.1h1.85v1.85h-1.85zM200.7 456.1h1.85v1.85h-1.85zM204.3 456.1h1.85v1.85h-1.85zM295.2 456.1h1.85v1.85h-1.85zM178.9 454.3h1.85v1.85h-1.85zM182.5 454.3h1.85v1.85h-1.85zM204.3 454.3h1.85v1.85h-1.85zM206.2 454.3h1.85v1.85h-1.85zM297.0 454.3h1.85v1.85h-1.85zM189.8 452.4h1.85v1.85h-1.85zM198.9 452.4h1.85v1.85h-1.85zM295.2 452.4h1.85v1.85h-1.85zM298.8 452.4h1.85v1.85h-1.85zM200.7 450.6h1.85v1.85h-1.85zM202.5 450.6h1.85v1.85h-1.85zM297.0 450.6h1.85v1.85h-1.85zM298.8 450.6h1.85v1.85h-1.85zM169.8 448.8h1.85v1.85h-1.85zM191.6 448.8h1.85v1.85h-1.85zM197.1 448.8h1.85v1.85h-1.85zM198.9 448.8h1.85v1.85h-1.85zM369.6 448.8h1.85v1.85h-1.85zM297.0 447.0h1.85v1.85h-1.85zM300.6 447.0h1.85v1.85h-1.85zM304.2 447.0h1.85v1.85h-1.85zM202.5 445.2h1.85v1.85h-1.85zM206.2 445.2h1.85v1.85h-1.85zM208.0 445.2h1.85v1.85h-1.85zM209.8 445.2h1.85v1.85h-1.85zM297.0 445.2h1.85v1.85h-1.85zM304.2 445.2h1.85v1.85h-1.85zM195.3 443.4h1.85v1.85h-1.85zM197.1 443.4h1.85v1.85h-1.85zM198.9 443.4h1.85v1.85h-1.85zM209.8 443.4h1.85v1.85h-1.85zM213.4 443.4h1.85v1.85h-1.85zM295.2 443.4h1.85v1.85h-1.85zM302.4 443.4h1.85v1.85h-1.85zM304.2 443.4h1.85v1.85h-1.85zM313.3 443.4h1.85v1.85h-1.85zM197.1 441.5h1.85v1.85h-1.85zM218.9 441.5h1.85v1.85h-1.85zM313.3 441.5h1.85v1.85h-1.85zM191.6 439.7h1.85v1.85h-1.85zM202.5 439.7h1.85v1.85h-1.85zM204.3 439.7h1.85v1.85h-1.85zM208.0 439.7h1.85v1.85h-1.85zM209.8 439.7h1.85v1.85h-1.85zM215.2 439.7h1.85v1.85h-1.85zM222.5 439.7h1.85v1.85h-1.85zM297.0 439.7h1.85v1.85h-1.85zM298.8 439.7h1.85v1.85h-1.85zM304.2 439.7h1.85v1.85h-1.85zM389.6 439.7h1.85v1.85h-1.85zM458.6 439.7h1.85v1.85h-1.85zM198.9 437.9h1.85v1.85h-1.85zM200.7 437.9h1.85v1.85h-1.85zM209.8 437.9h1.85v1.85h-1.85zM211.6 437.9h1.85v1.85h-1.85zM213.4 437.9h1.85v1.85h-1.85zM215.2 437.9h1.85v1.85h-1.85zM222.5 437.9h1.85v1.85h-1.85zM224.3 437.9h1.85v1.85h-1.85zM298.8 437.9h1.85v1.85h-1.85zM300.6 437.9h1.85v1.85h-1.85zM451.4 437.9h1.85v1.85h-1.85zM458.6 437.9h1.85v1.85h-1.85zM465.9 437.9h1.85v1.85h-1.85zM209.8 436.1h1.85v1.85h-1.85zM211.6 436.1h1.85v1.85h-1.85zM222.5 436.1h1.85v1.85h-1.85zM295.2 436.1h1.85v1.85h-1.85zM298.8 436.1h1.85v1.85h-1.85zM208.0 434.3h1.85v1.85h-1.85zM215.2 434.3h1.85v1.85h-1.85zM218.9 434.3h1.85v1.85h-1.85zM220.7 434.3h1.85v1.85h-1.85zM229.8 434.3h1.85v1.85h-1.85zM231.6 434.3h1.85v1.85h-1.85zM458.6 434.3h1.85v1.85h-1.85zM464.1 434.3h1.85v1.85h-1.85zM211.6 432.5h1.85v1.85h-1.85zM215.2 432.5h1.85v1.85h-1.85zM220.7 432.5h1.85v1.85h-1.85zM222.5 432.5h1.85v1.85h-1.85zM224.3 432.5h1.85v1.85h-1.85zM226.1 432.5h1.85v1.85h-1.85zM228.0 432.5h1.85v1.85h-1.85zM295.2 432.5h1.85v1.85h-1.85zM315.1 432.5h1.85v1.85h-1.85zM209.8 430.6h1.85v1.85h-1.85zM217.1 430.6h1.85v1.85h-1.85zM200.7 428.8h1.85v1.85h-1.85zM211.6 428.8h1.85v1.85h-1.85zM217.1 428.8h1.85v1.85h-1.85zM228.0 428.8h1.85v1.85h-1.85zM231.6 428.8h1.85v1.85h-1.85zM235.2 428.8h1.85v1.85h-1.85zM238.9 428.8h1.85v1.85h-1.85zM240.7 428.8h1.85v1.85h-1.85zM244.3 428.8h1.85v1.85h-1.85zM289.7 428.8h1.85v1.85h-1.85zM295.2 428.8h1.85v1.85h-1.85zM209.8 427.0h1.85v1.85h-1.85zM217.1 427.0h1.85v1.85h-1.85zM218.9 427.0h1.85v1.85h-1.85zM233.4 427.0h1.85v1.85h-1.85zM237.0 427.0h1.85v1.85h-1.85zM238.9 427.0h1.85v1.85h-1.85zM258.8 427.0h1.85v1.85h-1.85zM284.3 427.0h1.85v1.85h-1.85zM287.9 427.0h1.85v1.85h-1.85zM289.7 427.0h1.85v1.85h-1.85zM302.4 427.0h1.85v1.85h-1.85zM217.1 425.2h1.85v1.85h-1.85zM228.0 425.2h1.85v1.85h-1.85zM233.4 425.2h1.85v1.85h-1.85zM257.0 425.2h1.85v1.85h-1.85zM258.8 425.2h1.85v1.85h-1.85zM286.1 425.2h1.85v1.85h-1.85zM289.7 425.2h1.85v1.85h-1.85zM291.5 425.2h1.85v1.85h-1.85zM315.1 425.2h1.85v1.85h-1.85zM209.8 423.4h1.85v1.85h-1.85zM211.6 423.4h1.85v1.85h-1.85zM222.5 423.4h1.85v1.85h-1.85zM229.8 423.4h1.85v1.85h-1.85zM244.3 423.4h1.85v1.85h-1.85zM251.6 423.4h1.85v1.85h-1.85zM284.3 423.4h1.85v1.85h-1.85zM253.4 421.6h1.85v1.85h-1.85zM255.2 421.6h1.85v1.85h-1.85zM264.3 421.6h1.85v1.85h-1.85zM266.1 421.6h1.85v1.85h-1.85zM275.2 421.6h1.85v1.85h-1.85zM280.6 421.6h1.85v1.85h-1.85zM287.9 421.6h1.85v1.85h-1.85zM262.5 419.7h1.85v1.85h-1.85zM264.3 419.7h1.85v1.85h-1.85zM266.1 419.7h1.85v1.85h-1.85zM267.9 419.7h1.85v1.85h-1.85zM271.5 419.7h1.85v1.85h-1.85zM273.4 419.7h1.85v1.85h-1.85zM275.2 419.7h1.85v1.85h-1.85zM282.4 419.7h1.85v1.85h-1.85zM284.3 419.7h1.85v1.85h-1.85zM286.1 419.7h1.85v1.85h-1.85zM249.8 417.9h1.85v1.85h-1.85zM258.8 417.9h1.85v1.85h-1.85zM267.9 417.9h1.85v1.85h-1.85zM269.7 417.9h1.85v1.85h-1.85zM273.4 417.9h1.85v1.85h-1.85zM277.0 417.9h1.85v1.85h-1.85zM278.8 417.9h1.85v1.85h-1.85zM286.1 417.9h1.85v1.85h-1.85zM304.2 417.9h1.85v1.85h-1.85zM255.2 416.1h1.85v1.85h-1.85zM257.0 416.1h1.85v1.85h-1.85zM258.8 416.1h1.85v1.85h-1.85zM266.1 416.1h1.85v1.85h-1.85zM298.8 416.1h1.85v1.85h-1.85zM304.2 416.1h1.85v1.85h-1.85zM257.0 414.3h1.85v1.85h-1.85zM284.3 414.3h1.85v1.85h-1.85zM287.9 414.3h1.85v1.85h-1.85zM291.5 414.3h1.85v1.85h-1.85zM277.0 412.5h1.85v1.85h-1.85zM286.1 412.5h1.85v1.85h-1.85zM287.9 412.5h1.85v1.85h-1.85z"/>
<path fill="#3158b9" d="M253.4 468.8h1.85v1.85h-1.85zM217.1 467.0h1.85v1.85h-1.85zM218.9 467.0h1.85v1.85h-1.85zM242.5 467.0h1.85v1.85h-1.85zM246.1 467.0h1.85v1.85h-1.85zM255.2 467.0h1.85v1.85h-1.85zM257.0 467.0h1.85v1.85h-1.85zM264.3 467.0h1.85v1.85h-1.85zM267.9 467.0h1.85v1.85h-1.85zM215.2 465.2h1.85v1.85h-1.85zM218.9 465.2h1.85v1.85h-1.85zM226.1 465.2h1.85v1.85h-1.85zM231.6 465.2h1.85v1.85h-1.85zM238.9 465.2h1.85v1.85h-1.85zM242.5 465.2h1.85v1.85h-1.85zM247.9 465.2h1.85v1.85h-1.85zM249.8 465.2h1.85v1.85h-1.85zM260.6 465.2h1.85v1.85h-1.85zM269.7 465.2h1.85v1.85h-1.85zM273.4 465.2h1.85v1.85h-1.85zM275.2 465.2h1.85v1.85h-1.85zM209.8 463.3h1.85v1.85h-1.85zM271.5 463.3h1.85v1.85h-1.85zM275.2 463.3h1.85v1.85h-1.85zM277.0 463.3h1.85v1.85h-1.85zM280.6 463.3h1.85v1.85h-1.85zM282.4 463.3h1.85v1.85h-1.85zM286.1 463.3h1.85v1.85h-1.85zM217.1 461.5h1.85v1.85h-1.85zM224.3 461.5h1.85v1.85h-1.85zM202.5 459.7h1.85v1.85h-1.85zM206.2 459.7h1.85v1.85h-1.85zM284.3 459.7h1.85v1.85h-1.85zM204.3 457.9h1.85v1.85h-1.85zM206.2 457.9h1.85v1.85h-1.85zM209.8 457.9h1.85v1.85h-1.85zM298.8 457.9h1.85v1.85h-1.85zM197.1 456.1h1.85v1.85h-1.85zM198.9 456.1h1.85v1.85h-1.85zM202.5 456.1h1.85v1.85h-1.85zM289.7 456.1h1.85v1.85h-1.85zM198.9 454.3h1.85v1.85h-1.85zM206.2 452.4h1.85v1.85h-1.85zM189.8 450.6h1.85v1.85h-1.85zM197.1 450.6h1.85v1.85h-1.85zM293.3 450.6h1.85v1.85h-1.85zM297.0 448.8h1.85v1.85h-1.85zM206.2 447.0h1.85v1.85h-1.85zM295.2 447.0h1.85v1.85h-1.85zM193.4 445.2h1.85v1.85h-1.85zM197.1 445.2h1.85v1.85h-1.85zM211.6 445.2h1.85v1.85h-1.85zM213.4 445.2h1.85v1.85h-1.85zM215.2 445.2h1.85v1.85h-1.85zM291.5 445.2h1.85v1.85h-1.85zM298.8 445.2h1.85v1.85h-1.85zM208.0 443.4h1.85v1.85h-1.85zM291.5 443.4h1.85v1.85h-1.85zM298.8 443.4h1.85v1.85h-1.85zM300.6 443.4h1.85v1.85h-1.85zM206.2 441.5h1.85v1.85h-1.85zM215.2 441.5h1.85v1.85h-1.85zM217.1 441.5h1.85v1.85h-1.85zM222.5 441.5h1.85v1.85h-1.85zM295.2 441.5h1.85v1.85h-1.85zM298.8 441.5h1.85v1.85h-1.85zM220.7 439.7h1.85v1.85h-1.85zM235.2 439.7h1.85v1.85h-1.85zM295.2 439.7h1.85v1.85h-1.85zM300.6 439.7h1.85v1.85h-1.85zM233.4 437.9h1.85v1.85h-1.85zM293.3 437.9h1.85v1.85h-1.85zM295.2 437.9h1.85v1.85h-1.85zM297.0 437.9h1.85v1.85h-1.85zM302.4 437.9h1.85v1.85h-1.85zM304.2 437.9h1.85v1.85h-1.85zM204.3 436.1h1.85v1.85h-1.85zM206.2 436.1h1.85v1.85h-1.85zM208.0 436.1h1.85v1.85h-1.85zM218.9 436.1h1.85v1.85h-1.85zM220.7 436.1h1.85v1.85h-1.85zM229.8 436.1h1.85v1.85h-1.85zM231.6 436.1h1.85v1.85h-1.85zM233.4 436.1h1.85v1.85h-1.85zM297.0 436.1h1.85v1.85h-1.85zM460.5 436.1h1.85v1.85h-1.85zM209.8 434.3h1.85v1.85h-1.85zM211.6 434.3h1.85v1.85h-1.85zM222.5 434.3h1.85v1.85h-1.85zM224.3 434.3h1.85v1.85h-1.85zM228.0 434.3h1.85v1.85h-1.85zM233.4 434.3h1.85v1.85h-1.85zM291.5 434.3h1.85v1.85h-1.85zM213.4 432.5h1.85v1.85h-1.85zM217.1 432.5h1.85v1.85h-1.85zM277.0 432.5h1.85v1.85h-1.85zM289.7 432.5h1.85v1.85h-1.85zM297.0 432.5h1.85v1.85h-1.85zM218.9 430.6h1.85v1.85h-1.85zM226.1 430.6h1.85v1.85h-1.85zM235.2 430.6h1.85v1.85h-1.85zM237.0 430.6h1.85v1.85h-1.85zM240.7 430.6h1.85v1.85h-1.85zM291.5 430.6h1.85v1.85h-1.85zM293.3 430.6h1.85v1.85h-1.85zM295.2 430.6h1.85v1.85h-1.85zM229.8 428.8h1.85v1.85h-1.85zM233.4 428.8h1.85v1.85h-1.85zM242.5 428.8h1.85v1.85h-1.85zM253.4 428.8h1.85v1.85h-1.85zM286.1 428.8h1.85v1.85h-1.85zM297.0 428.8h1.85v1.85h-1.85zM229.8 427.0h1.85v1.85h-1.85zM242.5 427.0h1.85v1.85h-1.85zM244.3 427.0h1.85v1.85h-1.85zM257.0 427.0h1.85v1.85h-1.85zM260.6 427.0h1.85v1.85h-1.85zM271.5 427.0h1.85v1.85h-1.85zM282.4 427.0h1.85v1.85h-1.85zM291.5 427.0h1.85v1.85h-1.85zM229.8 425.2h1.85v1.85h-1.85zM240.7 425.2h1.85v1.85h-1.85zM247.9 425.2h1.85v1.85h-1.85zM249.8 425.2h1.85v1.85h-1.85zM251.6 425.2h1.85v1.85h-1.85zM269.7 425.2h1.85v1.85h-1.85zM280.6 425.2h1.85v1.85h-1.85zM228.0 423.4h1.85v1.85h-1.85zM240.7 423.4h1.85v1.85h-1.85zM247.9 423.4h1.85v1.85h-1.85zM255.2 423.4h1.85v1.85h-1.85zM258.8 423.4h1.85v1.85h-1.85zM269.7 423.4h1.85v1.85h-1.85zM275.2 423.4h1.85v1.85h-1.85zM277.0 423.4h1.85v1.85h-1.85zM280.6 423.4h1.85v1.85h-1.85zM282.4 423.4h1.85v1.85h-1.85zM260.6 421.6h1.85v1.85h-1.85zM267.9 421.6h1.85v1.85h-1.85zM269.7 421.6h1.85v1.85h-1.85zM278.8 421.6h1.85v1.85h-1.85zM282.4 421.6h1.85v1.85h-1.85zM286.1 421.6h1.85v1.85h-1.85zM289.7 421.6h1.85v1.85h-1.85zM249.8 419.7h1.85v1.85h-1.85zM257.0 419.7h1.85v1.85h-1.85zM258.8 419.7h1.85v1.85h-1.85zM269.7 419.7h1.85v1.85h-1.85zM277.0 419.7h1.85v1.85h-1.85zM287.9 419.7h1.85v1.85h-1.85zM289.7 419.7h1.85v1.85h-1.85zM257.0 417.9h1.85v1.85h-1.85zM282.4 414.3h1.85v1.85h-1.85z"/>
<path fill="#2f65ca" d="M227.7 464.9h2.30v2.30h-2.30zM233.2 464.9h2.30v2.30h-2.30zM240.4 464.9h2.30v2.30h-2.30zM251.3 464.9h2.30v2.30h-2.30zM262.2 464.9h2.30v2.30h-2.30zM213.2 463.1h2.30v2.30h-2.30zM222.3 463.1h2.30v2.30h-2.30zM225.9 463.1h2.30v2.30h-2.30zM233.2 463.1h2.30v2.30h-2.30zM240.4 463.1h2.30v2.30h-2.30zM242.3 463.1h2.30v2.30h-2.30zM269.5 463.1h2.30v2.30h-2.30zM284.0 463.1h2.30v2.30h-2.30zM202.3 461.3h2.30v2.30h-2.30zM207.7 461.3h2.30v2.30h-2.30zM211.4 461.3h2.30v2.30h-2.30zM213.2 461.3h2.30v2.30h-2.30zM269.5 461.3h2.30v2.30h-2.30zM280.4 461.3h2.30v2.30h-2.30zM282.2 461.3h2.30v2.30h-2.30zM284.0 461.3h2.30v2.30h-2.30zM285.9 461.3h2.30v2.30h-2.30zM198.7 459.5h2.30v2.30h-2.30zM207.7 459.5h2.30v2.30h-2.30zM209.6 459.5h2.30v2.30h-2.30zM218.6 459.5h2.30v2.30h-2.30zM280.4 459.5h2.30v2.30h-2.30zM282.2 459.5h2.30v2.30h-2.30zM298.6 459.5h2.30v2.30h-2.30zM200.5 457.7h2.30v2.30h-2.30zM202.3 457.7h2.30v2.30h-2.30zM211.4 457.7h2.30v2.30h-2.30zM282.2 457.7h2.30v2.30h-2.30zM289.5 457.7h2.30v2.30h-2.30zM293.1 457.7h2.30v2.30h-2.30zM285.9 455.8h2.30v2.30h-2.30zM287.7 455.8h2.30v2.30h-2.30zM293.1 455.8h2.30v2.30h-2.30zM285.9 454.0h2.30v2.30h-2.30zM293.1 454.0h2.30v2.30h-2.30zM294.9 454.0h2.30v2.30h-2.30zM207.7 452.2h2.30v2.30h-2.30zM289.5 452.2h2.30v2.30h-2.30zM293.1 452.2h2.30v2.30h-2.30zM191.4 450.4h2.30v2.30h-2.30zM198.7 450.4h2.30v2.30h-2.30zM294.9 450.4h2.30v2.30h-2.30zM202.3 448.6h2.30v2.30h-2.30zM215.0 448.6h2.30v2.30h-2.30zM293.1 448.6h2.30v2.30h-2.30zM204.1 446.8h2.30v2.30h-2.30zM207.7 446.8h2.30v2.30h-2.30zM293.1 446.8h2.30v2.30h-2.30zM204.1 444.9h2.30v2.30h-2.30zM293.1 444.9h2.30v2.30h-2.30zM205.9 443.1h2.30v2.30h-2.30zM293.1 443.1h2.30v2.30h-2.30zM296.8 443.1h2.30v2.30h-2.30zM296.8 441.3h2.30v2.30h-2.30zM205.9 439.5h2.30v2.30h-2.30zM211.4 439.5h2.30v2.30h-2.30zM213.2 439.5h2.30v2.30h-2.30zM236.8 439.5h2.30v2.30h-2.30zM293.1 439.5h2.30v2.30h-2.30zM207.7 437.7h2.30v2.30h-2.30zM220.5 437.7h2.30v2.30h-2.30zM216.8 435.9h2.30v2.30h-2.30zM284.0 435.9h2.30v2.30h-2.30zM293.1 435.9h2.30v2.30h-2.30zM458.4 435.9h2.30v2.30h-2.30zM216.8 434.0h2.30v2.30h-2.30zM225.9 434.0h2.30v2.30h-2.30zM293.1 434.0h2.30v2.30h-2.30zM296.8 434.0h2.30v2.30h-2.30zM285.9 432.2h2.30v2.30h-2.30zM293.1 432.2h2.30v2.30h-2.30zM227.7 430.4h2.30v2.30h-2.30zM233.2 430.4h2.30v2.30h-2.30zM242.3 430.4h2.30v2.30h-2.30zM244.1 430.4h2.30v2.30h-2.30zM245.9 430.4h2.30v2.30h-2.30zM289.5 430.4h2.30v2.30h-2.30zM255.0 428.6h2.30v2.30h-2.30zM258.6 428.6h2.30v2.30h-2.30zM278.6 428.6h2.30v2.30h-2.30zM287.7 428.6h2.30v2.30h-2.30zM235.0 426.8h2.30v2.30h-2.30zM245.9 426.8h2.30v2.30h-2.30zM247.7 426.8h2.30v2.30h-2.30zM264.1 426.8h2.30v2.30h-2.30zM253.2 425.0h2.30v2.30h-2.30zM260.4 425.0h2.30v2.30h-2.30zM278.6 425.0h2.30v2.30h-2.30zM282.2 425.0h2.30v2.30h-2.30zM256.8 423.1h2.30v2.30h-2.30zM262.2 423.1h2.30v2.30h-2.30zM264.1 423.1h2.30v2.30h-2.30zM289.5 423.1h2.30v2.30h-2.30zM258.6 421.3h2.30v2.30h-2.30zM273.1 421.3h2.30v2.30h-2.30zM284.0 421.3h2.30v2.30h-2.30zM278.6 419.5h2.30v2.30h-2.30z"/>
<path fill="#3380d4" d="M247.7 466.7h2.30v2.30h-2.30zM253.2 466.7h2.30v2.30h-2.30zM216.8 464.9h2.30v2.30h-2.30zM258.6 464.9h2.30v2.30h-2.30zM264.1 464.9h2.30v2.30h-2.30zM211.4 463.1h2.30v2.30h-2.30zM220.5 463.1h2.30v2.30h-2.30zM227.7 463.1h2.30v2.30h-2.30zM265.9 463.1h2.30v2.30h-2.30zM267.7 463.1h2.30v2.30h-2.30zM218.6 461.3h2.30v2.30h-2.30zM225.9 461.3h2.30v2.30h-2.30zM233.2 461.3h2.30v2.30h-2.30zM267.7 461.3h2.30v2.30h-2.30zM276.8 461.3h2.30v2.30h-2.30zM216.8 459.5h2.30v2.30h-2.30zM198.7 457.7h2.30v2.30h-2.30zM284.0 457.7h2.30v2.30h-2.30zM207.7 455.8h2.30v2.30h-2.30zM215.0 455.8h2.30v2.30h-2.30zM291.3 455.8h2.30v2.30h-2.30zM213.2 454.0h2.30v2.30h-2.30zM215.0 452.2h2.30v2.30h-2.30zM287.7 452.2h2.30v2.30h-2.30zM291.3 452.2h2.30v2.30h-2.30zM205.9 450.4h2.30v2.30h-2.30zM215.0 450.4h2.30v2.30h-2.30zM216.8 450.4h2.30v2.30h-2.30zM218.6 450.4h2.30v2.30h-2.30zM204.1 448.6h2.30v2.30h-2.30zM205.9 448.6h2.30v2.30h-2.30zM209.6 448.6h2.30v2.30h-2.30zM216.8 448.6h2.30v2.30h-2.30zM211.4 446.8h2.30v2.30h-2.30zM289.5 446.8h2.30v2.30h-2.30zM291.3 446.8h2.30v2.30h-2.30zM216.8 444.9h2.30v2.30h-2.30zM220.5 444.9h2.30v2.30h-2.30zM215.0 443.1h2.30v2.30h-2.30zM218.6 443.1h2.30v2.30h-2.30zM289.5 443.1h2.30v2.30h-2.30zM291.3 441.3h2.30v2.30h-2.30zM293.1 441.3h2.30v2.30h-2.30zM218.6 439.5h2.30v2.30h-2.30zM285.9 439.5h2.30v2.30h-2.30zM204.1 437.7h2.30v2.30h-2.30zM225.9 437.7h2.30v2.30h-2.30zM235.0 437.7h2.30v2.30h-2.30zM291.3 437.7h2.30v2.30h-2.30zM225.9 435.9h2.30v2.30h-2.30zM227.7 435.9h2.30v2.30h-2.30zM291.3 435.9h2.30v2.30h-2.30zM276.8 434.0h2.30v2.30h-2.30zM284.0 434.0h2.30v2.30h-2.30zM287.7 434.0h2.30v2.30h-2.30zM289.5 434.0h2.30v2.30h-2.30zM233.2 432.2h2.30v2.30h-2.30zM235.0 432.2h2.30v2.30h-2.30zM238.6 432.2h2.30v2.30h-2.30zM275.0 432.2h2.30v2.30h-2.30zM287.7 432.2h2.30v2.30h-2.30zM247.7 430.4h2.30v2.30h-2.30zM267.7 430.4h2.30v2.30h-2.30zM278.6 430.4h2.30v2.30h-2.30zM296.8 430.4h2.30v2.30h-2.30zM245.9 428.6h2.30v2.30h-2.30zM251.3 428.6h2.30v2.30h-2.30zM260.4 428.6h2.30v2.30h-2.30zM282.2 428.6h2.30v2.30h-2.30zM284.0 428.6h2.30v2.30h-2.30zM291.3 428.6h2.30v2.30h-2.30zM251.3 426.8h2.30v2.30h-2.30zM253.2 426.8h2.30v2.30h-2.30zM262.2 426.8h2.30v2.30h-2.30zM269.5 426.8h2.30v2.30h-2.30zM273.1 426.8h2.30v2.30h-2.30zM235.0 425.0h2.30v2.30h-2.30zM255.0 425.0h2.30v2.30h-2.30zM267.7 425.0h2.30v2.30h-2.30zM273.1 425.0h2.30v2.30h-2.30zM276.8 425.0h2.30v2.30h-2.30zM260.4 423.1h2.30v2.30h-2.30zM271.3 423.1h2.30v2.30h-2.30zM273.1 423.1h2.30v2.30h-2.30zM276.8 421.3h2.30v2.30h-2.30z"/>
<path fill="#379bde" d="M253.2 464.9h2.30v2.30h-2.30zM255.0 464.9h2.30v2.30h-2.30zM224.1 463.1h2.30v2.30h-2.30zM236.8 463.1h2.30v2.30h-2.30zM249.5 463.1h2.30v2.30h-2.30zM222.3 461.3h2.30v2.30h-2.30zM231.4 461.3h2.30v2.30h-2.30zM271.3 461.3h2.30v2.30h-2.30zM275.0 461.3h2.30v2.30h-2.30zM211.4 459.5h2.30v2.30h-2.30zM215.0 459.5h2.30v2.30h-2.30zM220.5 459.5h2.30v2.30h-2.30zM225.9 459.5h2.30v2.30h-2.30zM229.5 459.5h2.30v2.30h-2.30zM231.4 459.5h2.30v2.30h-2.30zM233.2 459.5h2.30v2.30h-2.30zM285.9 459.5h2.30v2.30h-2.30zM213.2 457.7h2.30v2.30h-2.30zM215.0 457.7h2.30v2.30h-2.30zM218.6 457.7h2.30v2.30h-2.30zM222.3 457.7h2.30v2.30h-2.30zM224.1 457.7h2.30v2.30h-2.30zM285.9 457.7h2.30v2.30h-2.30zM211.4 455.8h2.30v2.30h-2.30zM220.5 455.8h2.30v2.30h-2.30zM282.2 455.8h2.30v2.30h-2.30zM215.0 454.0h2.30v2.30h-2.30zM291.3 454.0h2.30v2.30h-2.30zM209.6 452.2h2.30v2.30h-2.30zM229.5 452.2h2.30v2.30h-2.30zM285.9 452.2h2.30v2.30h-2.30zM285.9 450.4h2.30v2.30h-2.30zM289.5 450.4h2.30v2.30h-2.30zM291.3 450.4h2.30v2.30h-2.30zM207.7 448.6h2.30v2.30h-2.30zM211.4 448.6h2.30v2.30h-2.30zM220.5 448.6h2.30v2.30h-2.30zM284.0 448.6h2.30v2.30h-2.30zM294.9 448.6h2.30v2.30h-2.30zM209.6 446.8h2.30v2.30h-2.30zM216.8 446.8h2.30v2.30h-2.30zM218.6 446.8h2.30v2.30h-2.30zM224.1 446.8h2.30v2.30h-2.30zM284.0 446.8h2.30v2.30h-2.30zM218.6 444.9h2.30v2.30h-2.30zM216.8 443.1h2.30v2.30h-2.30zM236.8 443.1h2.30v2.30h-2.30zM291.3 439.5h2.30v2.30h-2.30zM205.9 437.7h2.30v2.30h-2.30zM227.7 437.7h2.30v2.30h-2.30zM229.5 437.7h2.30v2.30h-2.30zM231.4 437.7h2.30v2.30h-2.30zM285.9 437.7h2.30v2.30h-2.30zM282.2 435.9h2.30v2.30h-2.30zM285.9 435.9h2.30v2.30h-2.30zM269.5 434.0h2.30v2.30h-2.30zM275.0 434.0h2.30v2.30h-2.30zM218.6 432.2h2.30v2.30h-2.30zM236.8 432.2h2.30v2.30h-2.30zM240.4 432.2h2.30v2.30h-2.30zM253.2 432.2h2.30v2.30h-2.30zM249.5 430.4h2.30v2.30h-2.30zM256.8 430.4h2.30v2.30h-2.30zM260.4 430.4h2.30v2.30h-2.30zM280.4 430.4h2.30v2.30h-2.30zM284.0 430.4h2.30v2.30h-2.30zM285.9 430.4h2.30v2.30h-2.30zM249.5 428.6h2.30v2.30h-2.30zM256.8 428.6h2.30v2.30h-2.30zM264.1 428.6h2.30v2.30h-2.30zM273.1 428.6h2.30v2.30h-2.30zM240.4 426.8h2.30v2.30h-2.30zM249.5 426.8h2.30v2.30h-2.30zM244.1 425.0h2.30v2.30h-2.30zM271.3 425.0h2.30v2.30h-2.30zM253.2 423.1h2.30v2.30h-2.30zM267.7 423.1h2.30v2.30h-2.30zM271.3 421.3h2.30v2.30h-2.30z"/>
<path fill="#3aaad2" d="M251.3 466.7h2.30v2.30h-2.30zM245.9 464.9h2.30v2.30h-2.30zM256.8 464.9h2.30v2.30h-2.30zM267.7 464.9h2.30v2.30h-2.30zM229.5 463.1h2.30v2.30h-2.30zM235.0 463.1h2.30v2.30h-2.30zM260.4 463.1h2.30v2.30h-2.30zM220.5 461.3h2.30v2.30h-2.30zM238.6 461.3h2.30v2.30h-2.30zM224.1 459.5h2.30v2.30h-2.30zM269.5 459.5h2.30v2.30h-2.30zM280.4 457.7h2.30v2.30h-2.30zM213.2 455.8h2.30v2.30h-2.30zM282.2 454.0h2.30v2.30h-2.30zM216.8 452.2h2.30v2.30h-2.30zM207.7 450.4h2.30v2.30h-2.30zM211.4 450.4h2.30v2.30h-2.30zM218.6 448.6h2.30v2.30h-2.30zM222.3 448.6h2.30v2.30h-2.30zM285.9 448.6h2.30v2.30h-2.30zM291.3 448.6h2.30v2.30h-2.30zM213.2 446.8h2.30v2.30h-2.30zM220.5 446.8h2.30v2.30h-2.30zM222.3 446.8h2.30v2.30h-2.30zM227.7 444.9h2.30v2.30h-2.30zM229.5 444.9h2.30v2.30h-2.30zM289.5 444.9h2.30v2.30h-2.30zM222.3 443.1h2.30v2.30h-2.30zM224.1 441.3h2.30v2.30h-2.30zM235.0 441.3h2.30v2.30h-2.30zM285.9 441.3h2.30v2.30h-2.30zM231.4 439.5h2.30v2.30h-2.30zM284.0 439.5h2.30v2.30h-2.30zM236.8 437.7h2.30v2.30h-2.30zM278.6 437.7h2.30v2.30h-2.30zM284.0 437.7h2.30v2.30h-2.30zM287.7 437.7h2.30v2.30h-2.30zM238.6 435.9h2.30v2.30h-2.30zM289.5 435.9h2.30v2.30h-2.30zM238.6 434.0h2.30v2.30h-2.30zM251.3 434.0h2.30v2.30h-2.30zM282.2 434.0h2.30v2.30h-2.30zM255.0 432.2h2.30v2.30h-2.30zM269.5 432.2h2.30v2.30h-2.30zM271.3 432.2h2.30v2.30h-2.30zM251.3 430.4h2.30v2.30h-2.30zM255.0 430.4h2.30v2.30h-2.30zM258.6 430.4h2.30v2.30h-2.30zM271.3 430.4h2.30v2.30h-2.30zM275.0 430.4h2.30v2.30h-2.30zM276.8 430.4h2.30v2.30h-2.30zM287.7 430.4h2.30v2.30h-2.30zM269.5 428.6h2.30v2.30h-2.30zM276.8 426.8h2.30v2.30h-2.30zM280.4 426.8h2.30v2.30h-2.30zM262.2 425.0h2.30v2.30h-2.30zM275.0 425.0h2.30v2.30h-2.30z"/>
<path fill="#3db7c1" d="M265.9 464.9h2.30v2.30h-2.30zM238.6 463.1h2.30v2.30h-2.30zM251.3 463.1h2.30v2.30h-2.30zM258.6 463.1h2.30v2.30h-2.30zM227.7 461.3h2.30v2.30h-2.30zM242.3 461.3h2.30v2.30h-2.30zM222.3 459.5h2.30v2.30h-2.30zM227.7 459.5h2.30v2.30h-2.30zM271.3 459.5h2.30v2.30h-2.30zM278.6 459.5h2.30v2.30h-2.30zM220.5 457.7h2.30v2.30h-2.30zM235.0 457.7h2.30v2.30h-2.30zM209.6 455.8h2.30v2.30h-2.30zM216.8 455.8h2.30v2.30h-2.30zM284.0 455.8h2.30v2.30h-2.30zM209.6 454.0h2.30v2.30h-2.30zM216.8 454.0h2.30v2.30h-2.30zM284.0 454.0h2.30v2.30h-2.30zM209.6 450.4h2.30v2.30h-2.30zM213.2 450.4h2.30v2.30h-2.30zM229.5 450.4h2.30v2.30h-2.30zM287.7 450.4h2.30v2.30h-2.30zM224.1 448.6h2.30v2.30h-2.30zM289.5 448.6h2.30v2.30h-2.30zM225.9 446.8h2.30v2.30h-2.30zM285.9 446.8h2.30v2.30h-2.30zM222.3 444.9h2.30v2.30h-2.30zM224.1 444.9h2.30v2.30h-2.30zM284.0 444.9h2.30v2.30h-2.30zM224.1 443.1h2.30v2.30h-2.30zM227.7 443.1h2.30v2.30h-2.30zM238.6 443.1h2.30v2.30h-2.30zM287.7 443.1h2.30v2.30h-2.30zM233.2 441.3h2.30v2.30h-2.30zM287.7 441.3h2.30v2.30h-2.30zM289.5 441.3h2.30v2.30h-2.30zM229.5 439.5h2.30v2.30h-2.30zM238.6 439.5h2.30v2.30h-2.30zM287.7 439.5h2.30v2.30h-2.30zM289.5 439.5h2.30v2.30h-2.30zM247.7 437.7h2.30v2.30h-2.30zM280.4 435.9h2.30v2.30h-2.30zM249.5 434.0h2.30v2.30h-2.30zM280.4 434.0h2.30v2.30h-2.30zM244.1 432.2h2.30v2.30h-2.30zM247.7 432.2h2.30v2.30h-2.30zM267.7 432.2h2.30v2.30h-2.30zM284.0 432.2h2.30v2.30h-2.30zM265.9 430.4h2.30v2.30h-2.30zM282.2 430.4h2.30v2.30h-2.30zM262.2 428.6h2.30v2.30h-2.30zM265.9 428.6h2.30v2.30h-2.30zM267.7 428.6h2.30v2.30h-2.30zM267.7 426.8h2.30v2.30h-2.30zM264.1 425.0h2.30v2.30h-2.30z"/>
<path fill="#40c4b0" d="M218.6 463.1h2.30v2.30h-2.30zM255.0 463.1h2.30v2.30h-2.30zM256.8 463.1h2.30v2.30h-2.30zM264.1 463.1h2.30v2.30h-2.30zM229.5 461.3h2.30v2.30h-2.30zM235.0 461.3h2.30v2.30h-2.30zM236.8 461.3h2.30v2.30h-2.30zM255.0 461.3h2.30v2.30h-2.30zM273.1 461.3h2.30v2.30h-2.30zM267.7 459.5h2.30v2.30h-2.30zM275.0 459.5h2.30v2.30h-2.30zM276.8 459.5h2.30v2.30h-2.30zM287.7 459.5h2.30v2.30h-2.30zM216.8 457.7h2.30v2.30h-2.30zM236.8 457.7h2.30v2.30h-2.30zM275.0 457.7h2.30v2.30h-2.30zM280.4 455.8h2.30v2.30h-2.30zM211.4 454.0h2.30v2.30h-2.30zM211.4 452.2h2.30v2.30h-2.30zM213.2 448.6h2.30v2.30h-2.30zM231.4 448.6h2.30v2.30h-2.30zM287.7 448.6h2.30v2.30h-2.30zM229.5 446.8h2.30v2.30h-2.30zM282.2 446.8h2.30v2.30h-2.30zM287.7 444.9h2.30v2.30h-2.30zM220.5 443.1h2.30v2.30h-2.30zM231.4 441.3h2.30v2.30h-2.30zM284.0 441.3h2.30v2.30h-2.30zM233.2 439.5h2.30v2.30h-2.30zM240.4 437.7h2.30v2.30h-2.30zM245.9 437.7h2.30v2.30h-2.30zM236.8 435.9h2.30v2.30h-2.30zM247.7 435.9h2.30v2.30h-2.30zM267.7 435.9h2.30v2.30h-2.30zM276.8 435.9h2.30v2.30h-2.30zM278.6 435.9h2.30v2.30h-2.30zM287.7 435.9h2.30v2.30h-2.30zM236.8 434.0h2.30v2.30h-2.30zM278.6 434.0h2.30v2.30h-2.30zM242.3 432.2h2.30v2.30h-2.30zM269.5 430.4h2.30v2.30h-2.30zM273.1 430.4h2.30v2.30h-2.30zM247.7 428.6h2.30v2.30h-2.30zM275.0 428.6h2.30v2.30h-2.30zM276.8 428.6h2.30v2.30h-2.30zM265.9 426.8h2.30v2.30h-2.30zM275.0 426.8h2.30v2.30h-2.30zM265.9 425.0h2.30v2.30h-2.30z"/>
<path fill="#47c596" d="M253.2 463.1h2.30v2.30h-2.30zM240.4 461.3h2.30v2.30h-2.30zM245.9 461.3h2.30v2.30h-2.30zM253.2 461.3h2.30v2.30h-2.30zM256.8 461.3h2.30v2.30h-2.30zM213.2 459.5h2.30v2.30h-2.30zM235.0 459.5h2.30v2.30h-2.30zM240.4 459.5h2.30v2.30h-2.30zM273.1 459.5h2.30v2.30h-2.30zM225.9 457.7h2.30v2.30h-2.30zM233.2 457.7h2.30v2.30h-2.30zM238.6 457.7h2.30v2.30h-2.30zM218.6 455.8h2.30v2.30h-2.30zM222.3 455.8h2.30v2.30h-2.30zM224.1 455.8h2.30v2.30h-2.30zM236.8 454.0h2.30v2.30h-2.30zM213.2 452.2h2.30v2.30h-2.30zM218.6 452.2h2.30v2.30h-2.30zM220.5 450.4h2.30v2.30h-2.30zM280.4 450.4h2.30v2.30h-2.30zM280.4 448.6h2.30v2.30h-2.30zM282.2 448.6h2.30v2.30h-2.30zM227.7 446.8h2.30v2.30h-2.30zM287.7 446.8h2.30v2.30h-2.30zM231.4 444.9h2.30v2.30h-2.30zM282.2 444.9h2.30v2.30h-2.30zM225.9 441.3h2.30v2.30h-2.30zM236.8 441.3h2.30v2.30h-2.30zM247.7 441.3h2.30v2.30h-2.30zM225.9 439.5h2.30v2.30h-2.30zM227.7 439.5h2.30v2.30h-2.30zM247.7 439.5h2.30v2.30h-2.30zM240.4 435.9h2.30v2.30h-2.30zM253.2 435.9h2.30v2.30h-2.30zM273.1 435.9h2.30v2.30h-2.30zM275.0 435.9h2.30v2.30h-2.30zM240.4 434.0h2.30v2.30h-2.30zM244.1 434.0h2.30v2.30h-2.30zM247.7 434.0h2.30v2.30h-2.30zM255.0 434.0h2.30v2.30h-2.30zM265.9 434.0h2.30v2.30h-2.30zM273.1 434.0h2.30v2.30h-2.30zM251.3 432.2h2.30v2.30h-2.30zM256.8 432.2h2.30v2.30h-2.30zM265.9 432.2h2.30v2.30h-2.30zM278.6 432.2h2.30v2.30h-2.30z"/>
<path fill="#4ec67c" d="M244.1 463.1h2.30v2.30h-2.30zM245.9 463.1h2.30v2.30h-2.30zM247.7 463.1h2.30v2.30h-2.30zM262.2 463.1h2.30v2.30h-2.30zM265.9 461.3h2.30v2.30h-2.30zM253.2 459.5h2.30v2.30h-2.30zM229.5 457.7h2.30v2.30h-2.30zM231.4 457.7h2.30v2.30h-2.30zM278.6 457.7h2.30v2.30h-2.30zM287.7 457.7h2.30v2.30h-2.30zM231.4 454.0h2.30v2.30h-2.30zM231.4 452.2h2.30v2.30h-2.30zM280.4 452.2h2.30v2.30h-2.30zM224.1 450.4h2.30v2.30h-2.30zM227.7 450.4h2.30v2.30h-2.30zM282.2 450.4h2.30v2.30h-2.30zM227.7 448.6h2.30v2.30h-2.30zM229.5 448.6h2.30v2.30h-2.30zM278.6 446.8h2.30v2.30h-2.30zM236.8 444.9h2.30v2.30h-2.30zM238.6 444.9h2.30v2.30h-2.30zM278.6 444.9h2.30v2.30h-2.30zM280.4 444.9h2.30v2.30h-2.30zM225.9 443.1h2.30v2.30h-2.30zM229.5 443.1h2.30v2.30h-2.30zM233.2 443.1h2.30v2.30h-2.30zM227.7 441.3h2.30v2.30h-2.30zM229.5 441.3h2.30v2.30h-2.30zM244.1 441.3h2.30v2.30h-2.30zM256.8 441.3h2.30v2.30h-2.30zM271.3 441.3h2.30v2.30h-2.30zM240.4 439.5h2.30v2.30h-2.30zM280.4 439.5h2.30v2.30h-2.30zM238.6 437.7h2.30v2.30h-2.30zM249.5 437.7h2.30v2.30h-2.30zM280.4 437.7h2.30v2.30h-2.30zM282.2 437.7h2.30v2.30h-2.30zM244.1 435.9h2.30v2.30h-2.30zM251.3 435.9h2.30v2.30h-2.30zM271.3 435.9h2.30v2.30h-2.30zM245.9 434.0h2.30v2.30h-2.30zM267.7 434.0h2.30v2.30h-2.30zM260.4 432.2h2.30v2.30h-2.30zM253.2 430.4h2.30v2.30h-2.30z"/>
<path fill="#55c762" d="M244.1 461.3h2.30v2.30h-2.30zM247.7 461.3h2.30v2.30h-2.30zM251.3 461.3h2.30v2.30h-2.30zM238.6 459.5h2.30v2.30h-2.30zM225.9 455.8h2.30v2.30h-2.30zM278.6 455.8h2.30v2.30h-2.30zM218.6 454.0h2.30v2.30h-2.30zM229.5 454.0h2.30v2.30h-2.30zM282.2 452.2h2.30v2.30h-2.30zM222.3 450.4h2.30v2.30h-2.30zM225.9 450.4h2.30v2.30h-2.30zM231.4 450.4h2.30v2.30h-2.30zM284.0 450.4h2.30v2.30h-2.30zM245.9 446.8h2.30v2.30h-2.30zM280.4 446.8h2.30v2.30h-2.30zM285.9 444.9h2.30v2.30h-2.30zM231.4 443.1h2.30v2.30h-2.30zM280.4 443.1h2.30v2.30h-2.30zM242.3 439.5h2.30v2.30h-2.30zM282.2 439.5h2.30v2.30h-2.30zM255.0 437.7h2.30v2.30h-2.30zM264.1 437.7h2.30v2.30h-2.30zM245.9 435.9h2.30v2.30h-2.30zM256.8 434.0h2.30v2.30h-2.30zM271.3 434.0h2.30v2.30h-2.30zM249.5 432.2h2.30v2.30h-2.30zM280.4 432.2h2.30v2.30h-2.30zM282.2 432.2h2.30v2.30h-2.30z"/>
<path fill="#5cc848" d="M249.5 461.3h2.30v2.30h-2.30zM236.8 459.5h2.30v2.30h-2.30zM265.9 459.5h2.30v2.30h-2.30zM258.6 457.7h2.30v2.30h-2.30zM269.5 457.7h2.30v2.30h-2.30zM227.7 454.0h2.30v2.30h-2.30zM235.0 454.0h2.30v2.30h-2.30zM278.6 454.0h2.30v2.30h-2.30zM233.2 452.2h2.30v2.30h-2.30zM225.9 448.6h2.30v2.30h-2.30zM276.8 448.6h2.30v2.30h-2.30zM233.2 444.9h2.30v2.30h-2.30zM275.0 444.9h2.30v2.30h-2.30zM244.1 443.1h2.30v2.30h-2.30zM273.1 443.1h2.30v2.30h-2.30zM238.6 441.3h2.30v2.30h-2.30zM245.9 439.5h2.30v2.30h-2.30zM265.9 439.5h2.30v2.30h-2.30zM242.3 437.7h2.30v2.30h-2.30zM255.0 435.9h2.30v2.30h-2.30zM258.6 432.2h2.30v2.30h-2.30zM262.2 432.2h2.30v2.30h-2.30zM264.1 432.2h2.30v2.30h-2.30zM262.2 430.4h2.30v2.30h-2.30zM264.1 430.4h2.30v2.30h-2.30z"/>
<path fill="#69cb44" d="M258.6 461.3h2.30v2.30h-2.30zM264.1 461.3h2.30v2.30h-2.30zM242.3 459.5h2.30v2.30h-2.30zM240.4 457.7h2.30v2.30h-2.30zM242.3 457.7h2.30v2.30h-2.30zM271.3 457.7h2.30v2.30h-2.30zM273.1 457.7h2.30v2.30h-2.30zM227.7 455.8h2.30v2.30h-2.30zM271.3 455.8h2.30v2.30h-2.30zM273.1 455.8h2.30v2.30h-2.30zM276.8 455.8h2.30v2.30h-2.30zM222.3 454.0h2.30v2.30h-2.30zM233.2 454.0h2.30v2.30h-2.30zM280.4 454.0h2.30v2.30h-2.30zM224.1 452.2h2.30v2.30h-2.30zM236.8 452.2h2.30v2.30h-2.30zM275.0 452.2h2.30v2.30h-2.30zM233.2 448.6h2.30v2.30h-2.30zM236.8 448.6h2.30v2.30h-2.30zM278.6 448.6h2.30v2.30h-2.30zM238.6 446.8h2.30v2.30h-2.30zM235.0 443.1h2.30v2.30h-2.30zM245.9 443.1h2.30v2.30h-2.30zM282.2 443.1h2.30v2.30h-2.30zM285.9 443.1h2.30v2.30h-2.30zM249.5 441.3h2.30v2.30h-2.30zM267.7 441.3h2.30v2.30h-2.30zM269.5 441.3h2.30v2.30h-2.30zM273.1 441.3h2.30v2.30h-2.30zM282.2 441.3h2.30v2.30h-2.30zM271.3 439.5h2.30v2.30h-2.30zM278.6 439.5h2.30v2.30h-2.30zM275.0 437.7h2.30v2.30h-2.30zM249.5 435.9h2.30v2.30h-2.30zM256.8 435.9h2.30v2.30h-2.30zM258.6 435.9h2.30v2.30h-2.30zM260.4 435.9h2.30v2.30h-2.30zM262.2 435.9h2.30v2.30h-2.30zM260.4 434.0h2.30v2.30h-2.30z"/>
<path fill="#75cd40" d="M245.9 459.5h2.30v2.30h-2.30zM247.7 459.5h2.30v2.30h-2.30zM251.3 459.5h2.30v2.30h-2.30zM227.7 457.7h2.30v2.30h-2.30zM253.2 457.7h2.30v2.30h-2.30zM265.9 457.7h2.30v2.30h-2.30zM276.8 457.7h2.30v2.30h-2.30zM229.5 455.8h2.30v2.30h-2.30zM236.8 455.8h2.30v2.30h-2.30zM253.2 455.8h2.30v2.30h-2.30zM220.5 452.2h2.30v2.30h-2.30zM225.9 452.2h2.30v2.30h-2.30zM276.8 452.2h2.30v2.30h-2.30zM284.0 452.2h2.30v2.30h-2.30zM258.6 450.4h2.30v2.30h-2.30zM276.8 446.8h2.30v2.30h-2.30zM225.9 444.9h2.30v2.30h-2.30zM269.5 444.9h2.30v2.30h-2.30zM269.5 443.1h2.30v2.30h-2.30zM251.3 441.3h2.30v2.30h-2.30zM255.0 439.5h2.30v2.30h-2.30zM256.8 439.5h2.30v2.30h-2.30zM269.5 439.5h2.30v2.30h-2.30zM276.8 439.5h2.30v2.30h-2.30zM253.2 437.7h2.30v2.30h-2.30zM265.9 437.7h2.30v2.30h-2.30zM276.8 437.7h2.30v2.30h-2.30zM242.3 435.9h2.30v2.30h-2.30zM264.1 435.9h2.30v2.30h-2.30zM265.9 435.9h2.30v2.30h-2.30zM269.5 435.9h2.30v2.30h-2.30zM242.3 434.0h2.30v2.30h-2.30z"/>
<path fill="#82d03c" d="M260.4 461.3h2.30v2.30h-2.30zM262.2 461.3h2.30v2.30h-2.30zM249.5 459.5h2.30v2.30h-2.30zM255.0 459.5h2.30v2.30h-2.30zM255.0 457.7h2.30v2.30h-2.30zM264.1 457.7h2.30v2.30h-2.30zM231.4 455.8h2.30v2.30h-2.30zM238.6 455.8h2.30v2.30h-2.30zM255.0 455.8h2.30v2.30h-2.30zM222.3 452.2h2.30v2.30h-2.30zM271.3 452.2h2.30v2.30h-2.30zM278.6 452.2h2.30v2.30h-2.30zM273.1 444.9h2.30v2.30h-2.30zM247.7 443.1h2.30v2.30h-2.30zM284.0 443.1h2.30v2.30h-2.30zM240.4 441.3h2.30v2.30h-2.30zM280.4 441.3h2.30v2.30h-2.30zM251.3 439.5h2.30v2.30h-2.30zM264.1 439.5h2.30v2.30h-2.30zM244.1 437.7h2.30v2.30h-2.30zM271.3 437.7h2.30v2.30h-2.30zM258.6 434.0h2.30v2.30h-2.30z"/>
<path fill="#8fd338" d="M247.7 457.7h2.30v2.30h-2.30zM249.5 457.7h2.30v2.30h-2.30zM262.2 457.7h2.30v2.30h-2.30zM267.7 457.7h2.30v2.30h-2.30zM235.0 455.8h2.30v2.30h-2.30zM247.7 455.8h2.30v2.30h-2.30zM251.3 455.8h2.30v2.30h-2.30zM224.1 454.0h2.30v2.30h-2.30zM235.0 452.2h2.30v2.30h-2.30zM267.7 452.2h2.30v2.30h-2.30zM273.1 452.2h2.30v2.30h-2.30zM238.6 450.4h2.30v2.30h-2.30zM269.5 450.4h2.30v2.30h-2.30zM244.1 448.6h2.30v2.30h-2.30zM233.2 446.8h2.30v2.30h-2.30zM244.1 446.8h2.30v2.30h-2.30zM244.1 444.9h2.30v2.30h-2.30zM245.9 444.9h2.30v2.30h-2.30zM247.7 444.9h2.30v2.30h-2.30zM278.6 443.1h2.30v2.30h-2.30zM275.0 441.3h2.30v2.30h-2.30zM260.4 439.5h2.30v2.30h-2.30zM262.2 439.5h2.30v2.30h-2.30zM275.0 439.5h2.30v2.30h-2.30zM267.7 437.7h2.30v2.30h-2.30zM273.1 437.7h2.30v2.30h-2.30z"/>
<path fill="#9bd534" d="M245.9 457.7h2.30v2.30h-2.30zM269.5 455.8h2.30v2.30h-2.30zM276.8 454.0h2.30v2.30h-2.30zM227.7 452.2h2.30v2.30h-2.30zM265.9 452.2h2.30v2.30h-2.30zM265.9 450.4h2.30v2.30h-2.30zM275.0 450.4h2.30v2.30h-2.30zM278.6 450.4h2.30v2.30h-2.30zM245.9 448.6h2.30v2.30h-2.30zM235.0 444.9h2.30v2.30h-2.30zM271.3 443.1h2.30v2.30h-2.30zM275.0 443.1h2.30v2.30h-2.30zM255.0 441.3h2.30v2.30h-2.30zM264.1 441.3h2.30v2.30h-2.30zM265.9 441.3h2.30v2.30h-2.30zM249.5 439.5h2.30v2.30h-2.30zM273.1 439.5h2.30v2.30h-2.30zM251.3 437.7h2.30v2.30h-2.30z"/>
<path fill="#a8d830" d="M244.1 459.5h2.30v2.30h-2.30zM244.1 457.7h2.30v2.30h-2.30zM256.8 457.7h2.30v2.30h-2.30zM220.5 454.0h2.30v2.30h-2.30zM265.9 454.0h2.30v2.30h-2.30zM275.0 454.0h2.30v2.30h-2.30zM233.2 450.4h2.30v2.30h-2.30zM256.8 450.4h2.30v2.30h-2.30zM276.8 450.4h2.30v2.30h-2.30zM238.6 448.6h2.30v2.30h-2.30zM273.1 448.6h2.30v2.30h-2.30zM231.4 446.8h2.30v2.30h-2.30zM235.0 446.8h2.30v2.30h-2.30zM269.5 446.8h2.30v2.30h-2.30zM275.0 446.8h2.30v2.30h-2.30zM260.4 444.9h2.30v2.30h-2.30zM276.8 444.9h2.30v2.30h-2.30zM249.5 443.1h2.30v2.30h-2.30zM260.4 443.1h2.30v2.30h-2.30zM242.3 441.3h2.30v2.30h-2.30zM245.9 441.3h2.30v2.30h-2.30zM276.8 441.3h2.30v2.30h-2.30zM244.1 439.5h2.30v2.30h-2.30zM253.2 439.5h2.30v2.30h-2.30zM267.7 439.5h2.30v2.30h-2.30zM262.2 434.0h2.30v2.30h-2.30zM264.1 434.0h2.30v2.30h-2.30z"/>
<path fill="#b6da2f" d="M264.1 455.8h2.30v2.30h-2.30zM265.9 455.8h2.30v2.30h-2.30zM245.9 454.0h2.30v2.30h-2.30zM271.3 454.0h2.30v2.30h-2.30zM273.1 454.0h2.30v2.30h-2.30zM245.9 452.2h2.30v2.30h-2.30zM269.5 452.2h2.30v2.30h-2.30zM235.0 450.4h2.30v2.30h-2.30zM247.7 450.4h2.30v2.30h-2.30zM264.1 450.4h2.30v2.30h-2.30zM247.7 448.6h2.30v2.30h-2.30zM271.3 448.6h2.30v2.30h-2.30zM236.8 446.8h2.30v2.30h-2.30zM240.4 444.9h2.30v2.30h-2.30zM267.7 444.9h2.30v2.30h-2.30zM240.4 443.1h2.30v2.30h-2.30zM242.3 443.1h2.30v2.30h-2.30zM258.6 439.5h2.30v2.30h-2.30zM260.4 437.7h2.30v2.30h-2.30z"/>
<path fill="#c4dd2e" d="M256.8 459.5h2.30v2.30h-2.30zM258.6 459.5h2.30v2.30h-2.30zM260.4 459.5h2.30v2.30h-2.30zM240.4 455.8h2.30v2.30h-2.30zM256.8 455.8h2.30v2.30h-2.30zM258.6 455.8h2.30v2.30h-2.30zM260.4 455.8h2.30v2.30h-2.30zM275.0 455.8h2.30v2.30h-2.30zM240.4 454.0h2.30v2.30h-2.30zM244.1 454.0h2.30v2.30h-2.30zM267.7 454.0h2.30v2.30h-2.30zM242.3 452.2h2.30v2.30h-2.30zM260.4 450.4h2.30v2.30h-2.30zM235.0 448.6h2.30v2.30h-2.30zM275.0 448.6h2.30v2.30h-2.30zM240.4 446.8h2.30v2.30h-2.30zM247.7 446.8h2.30v2.30h-2.30zM251.3 443.1h2.30v2.30h-2.30zM262.2 443.1h2.30v2.30h-2.30zM256.8 437.7h2.30v2.30h-2.30zM258.6 437.7h2.30v2.30h-2.30zM269.5 437.7h2.30v2.30h-2.30z"/>
<path fill="#d1e02d" d="M260.4 457.7h2.30v2.30h-2.30zM233.2 455.8h2.30v2.30h-2.30zM262.2 455.8h2.30v2.30h-2.30zM267.7 455.8h2.30v2.30h-2.30zM242.3 454.0h2.30v2.30h-2.30zM240.4 452.2h2.30v2.30h-2.30zM240.4 450.4h2.30v2.30h-2.30zM240.4 448.6h2.30v2.30h-2.30zM267.7 448.6h2.30v2.30h-2.30zM269.5 448.6h2.30v2.30h-2.30zM271.3 444.9h2.30v2.30h-2.30zM264.1 443.1h2.30v2.30h-2.30zM267.7 443.1h2.30v2.30h-2.30zM253.2 441.3h2.30v2.30h-2.30zM258.6 441.3h2.30v2.30h-2.30zM262.2 437.7h2.30v2.30h-2.30z"/>
<path fill="#dfe22c" d="M262.2 459.5h2.30v2.30h-2.30zM264.1 459.5h2.30v2.30h-2.30zM245.9 455.8h2.30v2.30h-2.30zM225.9 454.0h2.30v2.30h-2.30zM238.6 454.0h2.30v2.30h-2.30zM253.2 454.0h2.30v2.30h-2.30zM269.5 454.0h2.30v2.30h-2.30zM244.1 452.2h2.30v2.30h-2.30zM247.7 452.2h2.30v2.30h-2.30zM256.8 452.2h2.30v2.30h-2.30zM245.9 450.4h2.30v2.30h-2.30zM249.5 450.4h2.30v2.30h-2.30zM262.2 450.4h2.30v2.30h-2.30z"/>
<path fill="#ede42b" d="M247.7 454.0h2.30v2.30h-2.30zM256.8 454.0h2.30v2.30h-2.30zM249.5 452.2h2.30v2.30h-2.30zM262.2 452.2h2.30v2.30h-2.30zM236.8 450.4h2.30v2.30h-2.30zM258.6 448.6h2.30v2.30h-2.30zM262.2 448.6h2.30v2.30h-2.30zM242.3 446.8h2.30v2.30h-2.30zM264.1 446.8h2.30v2.30h-2.30zM273.1 446.8h2.30v2.30h-2.30zM258.6 443.1h2.30v2.30h-2.30zM278.6 441.3h2.30v2.30h-2.30z"/>
<path fill="#f5e129" d="M249.5 454.0h2.30v2.30h-2.30zM251.3 454.0h2.30v2.30h-2.30zM253.2 452.2h2.30v2.30h-2.30zM244.1 450.4h2.30v2.30h-2.30zM253.2 450.4h2.30v2.30h-2.30zM264.1 448.6h2.30v2.30h-2.30zM267.7 446.8h2.30v2.30h-2.30zM249.5 444.9h2.30v2.30h-2.30zM256.8 443.1h2.30v2.30h-2.30zM276.8 443.1h2.30v2.30h-2.30z"/>
<path fill="#f5d527" d="M249.5 455.8h2.30v2.30h-2.30zM262.2 454.0h2.30v2.30h-2.30zM264.1 452.2h2.30v2.30h-2.30zM267.7 450.4h2.30v2.30h-2.30z"/>
<path fill="#f5ca26" d="M255.0 454.0h2.30v2.30h-2.30zM271.3 450.4h2.30v2.30h-2.30zM256.8 444.9h2.30v2.30h-2.30zM258.6 444.9h2.30v2.30h-2.30zM265.9 443.1h2.30v2.30h-2.30zM260.4 441.3h2.30v2.30h-2.30z"/>
<path fill="#f5be24" d="M251.3 457.7h2.30v2.30h-2.30zM242.3 455.8h2.30v2.30h-2.30zM260.4 454.0h2.30v2.30h-2.30zM251.3 452.2h2.30v2.30h-2.30zM260.4 452.2h2.30v2.30h-2.30zM242.3 450.4h2.30v2.30h-2.30zM242.3 448.6h2.30v2.30h-2.30zM249.5 448.6h2.30v2.30h-2.30zM271.3 446.8h2.30v2.30h-2.30zM255.0 444.9h2.30v2.30h-2.30zM262.2 441.3h2.30v2.30h-2.30z"/>
<path fill="#f5b222" d="M258.6 452.2h2.30v2.30h-2.30zM258.6 446.8h2.30v2.30h-2.30zM265.9 446.8h2.30v2.30h-2.30zM264.1 444.9h2.30v2.30h-2.30zM265.9 444.9h2.30v2.30h-2.30z"/>
<path fill="#f5a620" d="M238.6 452.2h2.30v2.30h-2.30zM251.3 444.9h2.30v2.30h-2.30z"/>
<path fill="#f59a1e" d="M258.6 454.0h2.30v2.30h-2.30zM255.0 452.2h2.30v2.30h-2.30zM255.0 448.6h2.30v2.30h-2.30zM256.8 446.8h2.30v2.30h-2.30zM255.0 443.1h2.30v2.30h-2.30z"/>
<path fill="#f28b1c" d="M256.8 448.6h2.30v2.30h-2.30zM260.4 448.6h2.30v2.30h-2.30zM265.9 448.6h2.30v2.30h-2.30zM262.2 446.8h2.30v2.30h-2.30z"/>
<path fill="#f07c1a" d="M244.1 455.8h2.30v2.30h-2.30z"/>
<path fill="#ed6d17" d="M264.1 454.0h2.30v2.30h-2.30zM273.1 450.4h2.30v2.30h-2.30zM253.2 448.6h2.30v2.30h-2.30z"/>
<path fill="#ea5e15" d="M249.5 446.8h2.30v2.30h-2.30zM253.2 443.1h2.30v2.30h-2.30z"/>
<path fill="#e84f13" d="M251.3 448.6h2.30v2.30h-2.30zM242.3 444.9h2.30v2.30h-2.30z"/>
<path fill="#e54011" d="M255.0 450.4h2.30v2.30h-2.30zM251.3 446.8h2.30v2.30h-2.30z"/>
<path fill="#e13610" d="M253.2 446.8h2.30v2.30h-2.30zM262.2 444.9h2.30v2.30h-2.30z"/>
<path fill="#dc3010" d="M251.3 450.4h2.30v2.30h-2.30zM255.0 446.8h2.30v2.30h-2.30zM260.4 446.8h2.30v2.30h-2.30zM253.2 444.9h2.30v2.30h-2.30z"/>
</g>
<g class="t" opacity="0.999">
<rect x="133.5" y="16.5" width="465.0" height="465.0" fill="none" stroke="#000" stroke-width="1"/>
<rect x="120" y="36.00" width="13.5" height="3.90" fill="#151515"/>
<rect x="120" y="123.30" width="13.5" height="4.30" fill="#151515"/>
<rect x="120" y="212.30" width="13.5" height="4.30" fill="#151515"/>
<rect x="120" y="300.90" width="13.5" height="3.90" fill="#151515"/>
<rect x="120" y="388.30" width="13.5" height="4.30" fill="#151515"/>
<rect x="120" y="477.20" width="13.5" height="4.60" fill="#151515"/>
<rect x="128" y="58.80" width="5.5" height="2" fill="#151515"/>
<rect x="128" y="80.60" width="5.5" height="2" fill="#151515"/>
<rect x="128" y="101.90" width="5.5" height="2" fill="#151515"/>
<rect x="128" y="148.40" width="5.5" height="2" fill="#151515"/>
<rect x="128" y="169.90" width="5.5" height="2" fill="#151515"/>
<rect x="128" y="191.20" width="5.5" height="2" fill="#151515"/>
<rect x="128" y="234.60" width="5.5" height="2" fill="#151515"/>
<rect x="128" y="257.10" width="5.5" height="2" fill="#151515"/>
<rect x="128" y="279.90" width="5.5" height="2" fill="#151515"/>
<rect x="128" y="324.10" width="5.5" height="2" fill="#151515"/>
<rect x="128" y="345.90" width="5.5" height="2" fill="#151515"/>
<rect x="128" y="367.90" width="5.5" height="2" fill="#151515"/>
<rect x="128" y="412.80" width="5.5" height="2" fill="#151515"/>
<rect x="128" y="434.50" width="5.5" height="2" fill="#151515"/>
<rect x="128" y="455.90" width="5.5" height="2" fill="#151515"/>
<rect x="133.0" y="481" width="4.7" height="12.7" fill="#151515"/>
<rect x="247.2" y="481" width="4.7" height="12.7" fill="#151515"/>
<rect x="363.9" y="481" width="4.5" height="12.7" fill="#151515"/>
<rect x="478.1" y="481" width="4.8" height="12.7" fill="#151515"/>
<rect x="594.3" y="481" width="4.7" height="12.7" fill="#151515"/>
<rect x="213.0" y="481" width="4" height="9.7" fill="#151515"/>
<rect x="327.8" y="481" width="4" height="9.7" fill="#151515"/>
<rect x="444.0" y="481" width="4" height="9.7" fill="#151515"/>
<rect x="560.0" y="481" width="4" height="9.7" fill="#151515"/>
<rect x="167.0" y="481" width="2" height="5.6" fill="#151515"/>
<rect x="186.8" y="481" width="2" height="5.6" fill="#151515"/>
<rect x="201.8" y="481" width="2" height="5.6" fill="#151515"/>
<rect x="222.9" y="481" width="2" height="5.6" fill="#151515"/>
<rect x="230.7" y="481" width="2" height="5.6" fill="#151515"/>
<rect x="237.8" y="481" width="2" height="5.6" fill="#151515"/>
<rect x="242.7" y="481" width="2" height="5.6" fill="#151515"/>
<rect x="282.9" y="481" width="2" height="5.6" fill="#151515"/>
<rect x="302.8" y="481" width="2" height="5.6" fill="#151515"/>
<rect x="317.9" y="481" width="2" height="5.6" fill="#151515"/>
<rect x="337.8" y="481" width="2" height="5.6" fill="#151515"/>
<rect x="346.7" y="481" width="2" height="5.6" fill="#151515"/>
<rect x="351.6" y="481" width="2" height="5.6" fill="#151515"/>
<rect x="360.0" y="481" width="2" height="5.6" fill="#151515"/>
<rect x="399.0" y="481" width="2" height="5.6" fill="#151515"/>
<rect x="418.8" y="481" width="2" height="5.6" fill="#151515"/>
<rect x="434.0" y="481" width="2" height="5.6" fill="#151515"/>
<rect x="453.9" y="481" width="2" height="5.6" fill="#151515"/>
<rect x="461.0" y="481" width="2" height="5.6" fill="#151515"/>
<rect x="467.9" y="481" width="2" height="5.6" fill="#151515"/>
<rect x="474.2" y="481" width="2" height="5.6" fill="#151515"/>
<rect x="514.0" y="481" width="2" height="5.6" fill="#151515"/>
<rect x="535.8" y="481" width="2" height="5.6" fill="#151515"/>
<rect x="550.0" y="481" width="2" height="5.6" fill="#151515"/>
<rect x="569.8" y="481" width="2" height="5.6" fill="#151515"/>
<rect x="576.8" y="481" width="2" height="5.6" fill="#151515"/>
<rect x="584.8" y="481" width="2" height="5.6" fill="#151515"/>
<rect x="589.7" y="481" width="2" height="5.6" fill="#151515"/>
<path transform="translate(76.81 43.80) scale(0.00786 -0.00786)" d="M763 0H583V1147Q518 1085 412.5 1023T223 930V1104Q373 1174.5 485 1275T644 1470H763Z" fill="#262626"/>
<text x="112.6" y="43.8" font-size="16.1" fill="#262626" text-anchor="end">,0M</text>
<text x="112.6" y="131.7" font-size="16.1" fill="#262626" text-anchor="end">800K</text>
<text x="112.6" y="220.4" font-size="16.1" fill="#262626" text-anchor="end">600K</text>
<text x="112.6" y="309.4" font-size="16.1" fill="#262626" text-anchor="end">400K</text>
<text x="112.6" y="396.7" font-size="16.1" fill="#262626" text-anchor="end">200K</text>
<text x="112.2" y="478.4" font-size="16.1" fill="#262626" text-anchor="end">0</text>
<path transform="translate(141.50 519.80) scale(0.00801 -0.00801)" d="M763 0H583V1147Q518 1085 412.5 1023T223 930V1104Q373 1174.5 485 1275T644 1470H763Z" fill="#262626"/>
<text x="150.6" y="519.8" font-size="16.4" fill="#262626">0</text>
<text x="159.3" y="508.9" font-size="16.4" fill="#262626">2</text>
<path transform="translate(248.40 519.80) scale(0.00801 -0.00801)" d="M763 0H583V1147Q518 1085 412.5 1023T223 930V1104Q373 1174.5 485 1275T644 1470H763Z" fill="#262626"/>
<text x="257.5" y="519.8" font-size="16.4" fill="#262626">0</text>
<text x="266.8" y="508.9" font-size="16.4" fill="#262626">3</text>
<path transform="translate(364.70 519.80) scale(0.00801 -0.00801)" d="M763 0H583V1147Q518 1085 412.5 1023T223 930V1104Q373 1174.5 485 1275T644 1470H763Z" fill="#262626"/>
<text x="373.8" y="519.8" font-size="16.4" fill="#262626">0</text>
<text x="382.9" y="508.9" font-size="16.4" fill="#262626">4</text>
<path transform="translate(479.10 519.80) scale(0.00801 -0.00801)" d="M763 0H583V1147Q518 1085 412.5 1023T223 930V1104Q373 1174.5 485 1275T644 1470H763Z" fill="#262626"/>
<text x="488.2" y="519.8" font-size="16.4" fill="#262626">0</text>
<text x="497.5" y="508.9" font-size="16.4" fill="#262626">5</text>
<path transform="translate(570.30 519.80) scale(0.00801 -0.00801)" d="M763 0H583V1147Q518 1085 412.5 1023T223 930V1104Q373 1174.5 485 1275T644 1470H763Z" fill="#262626"/>
<text x="579.4" y="519.8" font-size="16.4" fill="#262626">0</text>
<text x="588.2" y="508.9" font-size="16.4" fill="#262626">6</text>
<text x="365.6" y="565.8" font-size="20.0" fill="#262626" text-anchor="middle">FL6-A</text>
<text transform="translate(29.1 247.6) rotate(-90)" font-size="19.9" fill="#262626" text-anchor="middle">SS-A</text>
<text x="222.2" y="290.2" class="g" font-size="20.0" fill="#000">TCR-</text>
<text x="223.3" y="318.4" class="g" font-size="20.0" fill="#000">95,5</text>
<text x="431.0" y="289.1" class="g" font-size="20.0" fill="#000">TCR+</text>
<text x="433.6" y="317.0" class="g" font-size="20.0" fill="#000">4,42</text>
</g>
<g>
<polygon points="154.5,400.3 234.4,387.3 328.7,394.0 307.9,472.3 242.0,476.6 160.1,474.8 138.6,461.4" fill="none" stroke="#000" stroke-width="3.1" stroke-linejoin="miter"/>
<polygon points="328.7,394.0 446.7,387.3 517.7,407.5 481.6,476.4 327.2,478.3 307.9,472.3" fill="none" stroke="#000" stroke-width="3.1" stroke-linejoin="miter"/>
<line x1="328.7" y1="394.0" x2="307.9" y2="472.3" stroke="#000" stroke-width="4.2"/>
</g>
</svg>
</body></html>
